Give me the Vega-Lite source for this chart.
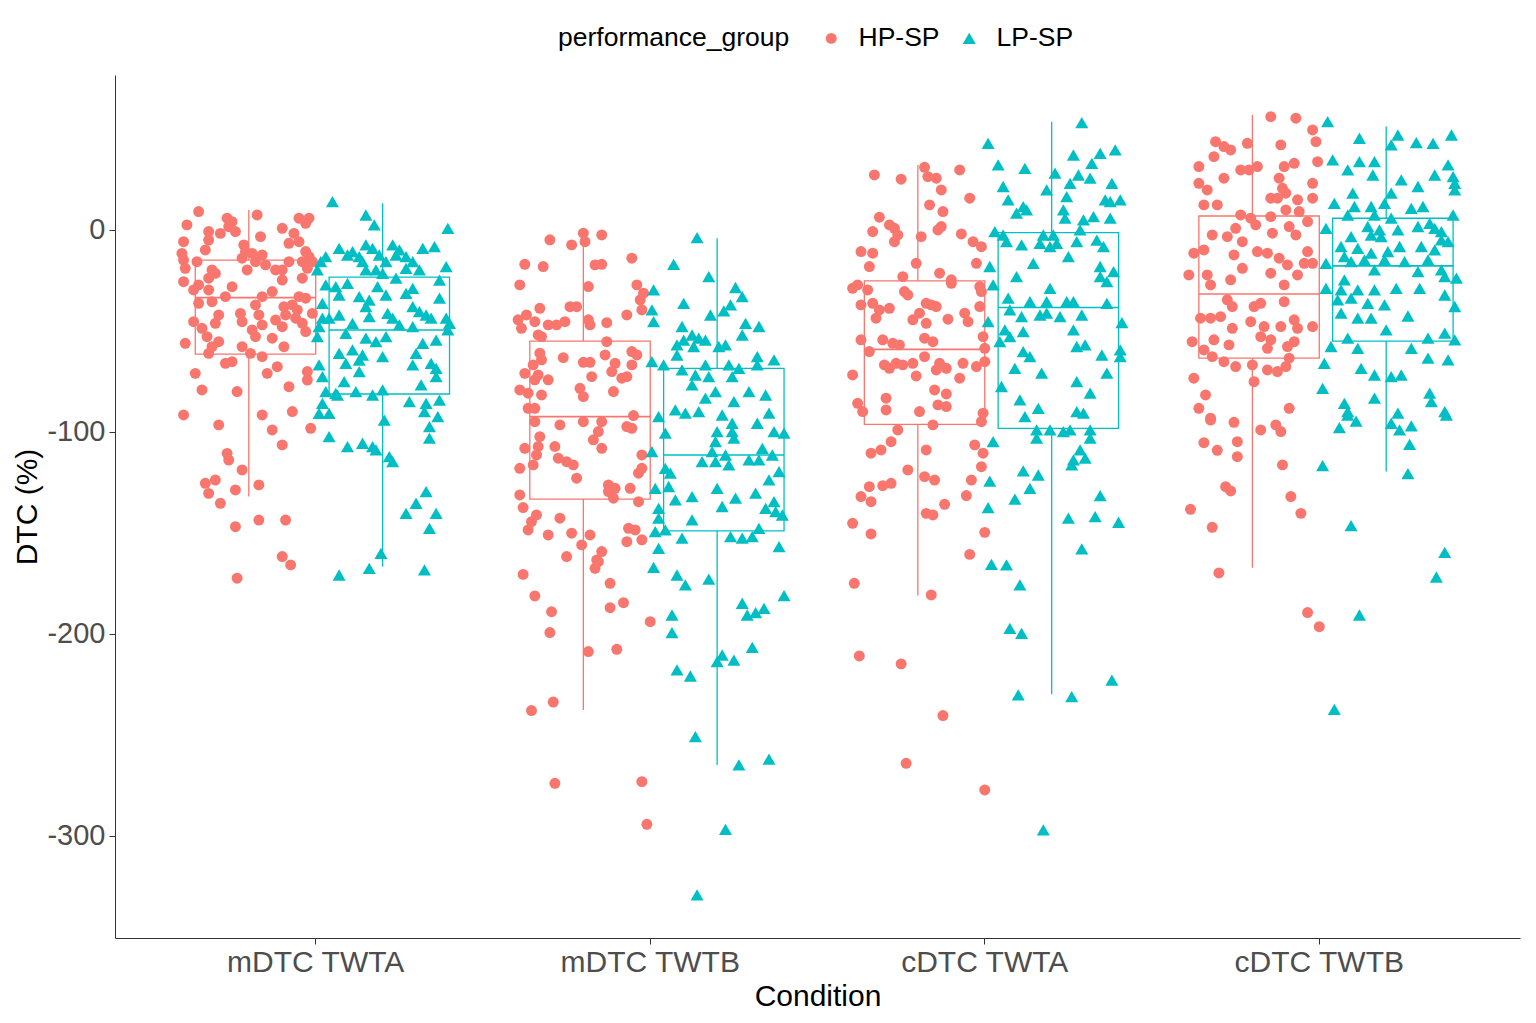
{
  "$schema": "https://vega.github.io/schema/vega-lite/v6.json",
  "width": 1405,
  "height": 863,
  "autosize": "none",
  "padding": {"left": 115, "top": 75, "right": 16, "bottom": 85},
  "background": "white",
  "config": {
    "font": "Liberation Sans",
    "view": {"stroke": null},
    "axis": {
      "grid": false,
      "domainColor": "#333333",
      "tickColor": "#333333",
      "tickSize": 6,
      "labelColor": "#4D4D4D",
      "labelFontSize": 30,
      "titleFontSize": 30,
      "titleColor": "black",
      "titleFontWeight": "normal"
    },
    "legend": {
      "titleFontSize": 26.5,
      "titleFontWeight": "normal",
      "labelFontSize": 26.5,
      "titleColor": "black",
      "labelColor": "black",
      "titleLimit": 500,
      "labelLimit": 300
    }
  },
  "datasets": {
    "boxes": [
      {"cond": "mDTC TWTA", "group": "HP-SP", "lo": -132, "q1": -61.5, "median": -33.5, "q3": -14.9, "hi": 9.9},
      {"cond": "mDTC TWTA", "group": "LP-SP", "lo": -166.7, "q1": -81.2, "median": -49.5, "q3": -23.4, "hi": 13.2},
      {"cond": "mDTC TWTB", "group": "HP-SP", "lo": -237.6, "q1": -133.2, "median": -92.4, "q3": -55, "hi": -3},
      {"cond": "mDTC TWTB", "group": "LP-SP", "lo": -264.9, "q1": -149, "median": -111.4, "q3": -68.5, "hi": -4.1},
      {"cond": "cDTC TWTA", "group": "HP-SP", "lo": -181, "q1": -96.2, "median": -59.1, "q3": -25.2, "hi": 32.2},
      {"cond": "cDTC TWTA", "group": "LP-SP", "lo": -229.9, "q1": -98.2, "median": -38.4, "q3": -1.3, "hi": 53.6},
      {"cond": "cDTC TWTB", "group": "HP-SP", "lo": -167.2, "q1": -63.5, "median": -31.7, "q3": 6.9, "hi": 56.9},
      {"cond": "cDTC TWTB", "group": "LP-SP", "lo": -119.6, "q1": -55, "median": -17.8, "q3": 5.8, "hi": 51.2}
    ],
    "points": [
      {"cond":"mDTC TWTA","group":"HP-SP","jit":-0.35,"dtc":9.1},
      {"cond":"mDTC TWTA","group":"HP-SP","jit":-0.385,"dtc":2.5},
      {"cond":"mDTC TWTA","group":"HP-SP","jit":-0.265,"dtc":5.8},
      {"cond":"mDTC TWTA","group":"HP-SP","jit":-0.25,"dtc":4.1},
      {"cond":"mDTC TWTA","group":"HP-SP","jit":-0.26,"dtc":1.6},
      {"cond":"mDTC TWTA","group":"HP-SP","jit":-0.175,"dtc":7.4},
      {"cond":"mDTC TWTA","group":"HP-SP","jit":-0.32,"dtc":-0.8},
      {"cond":"mDTC TWTA","group":"HP-SP","jit":-0.285,"dtc":-1.7},
      {"cond":"mDTC TWTA","group":"HP-SP","jit":-0.24,"dtc":-0.8},
      {"cond":"mDTC TWTA","group":"HP-SP","jit":-0.165,"dtc":-3.3},
      {"cond":"mDTC TWTA","group":"HP-SP","jit":-0.1,"dtc":0.8},
      {"cond":"mDTC TWTA","group":"HP-SP","jit":-0.05,"dtc":5.8},
      {"cond":"mDTC TWTA","group":"HP-SP","jit":-0.02,"dtc":5.8},
      {"cond":"mDTC TWTA","group":"HP-SP","jit":-0.03,"dtc":3.3},
      {"cond":"mDTC TWTA","group":"HP-SP","jit":-0.065,"dtc":-1.7},
      {"cond":"mDTC TWTA","group":"HP-SP","jit":-0.395,"dtc":-5.8},
      {"cond":"mDTC TWTA","group":"HP-SP","jit":-0.32,"dtc":-5},
      {"cond":"mDTC TWTA","group":"HP-SP","jit":-0.215,"dtc":-7.4},
      {"cond":"mDTC TWTA","group":"HP-SP","jit":-0.08,"dtc":-6.6},
      {"cond":"mDTC TWTA","group":"HP-SP","jit":-0.05,"dtc":-5.8},
      {"cond":"mDTC TWTA","group":"HP-SP","jit":-0.33,"dtc":-9.9},
      {"cond":"mDTC TWTA","group":"HP-SP","jit":-0.4,"dtc":-11.6},
      {"cond":"mDTC TWTA","group":"HP-SP","jit":-0.21,"dtc":-10.7},
      {"cond":"mDTC TWTA","group":"HP-SP","jit":-0.19,"dtc":-11.6},
      {"cond":"mDTC TWTA","group":"HP-SP","jit":-0.16,"dtc":-12.4},
      {"cond":"mDTC TWTA","group":"HP-SP","jit":-0.03,"dtc":-10.7},
      {"cond":"mDTC TWTA","group":"HP-SP","jit":-0.02,"dtc":-13.2},
      {"cond":"mDTC TWTA","group":"HP-SP","jit":-0.395,"dtc":-14.9},
      {"cond":"mDTC TWTA","group":"HP-SP","jit":-0.355,"dtc":-15.7},
      {"cond":"mDTC TWTA","group":"HP-SP","jit":-0.22,"dtc":-14},
      {"cond":"mDTC TWTA","group":"HP-SP","jit":-0.18,"dtc":-15.7},
      {"cond":"mDTC TWTA","group":"HP-SP","jit":-0.15,"dtc":-17.3},
      {"cond":"mDTC TWTA","group":"HP-SP","jit":-0.12,"dtc":-19.8},
      {"cond":"mDTC TWTA","group":"HP-SP","jit":-0.08,"dtc":-15.7},
      {"cond":"mDTC TWTA","group":"HP-SP","jit":-0.04,"dtc":-15.7},
      {"cond":"mDTC TWTA","group":"HP-SP","jit":-0.01,"dtc":-15.7},
      {"cond":"mDTC TWTA","group":"HP-SP","jit":-0.39,"dtc":-19},
      {"cond":"mDTC TWTA","group":"HP-SP","jit":-0.31,"dtc":-19.8},
      {"cond":"mDTC TWTA","group":"HP-SP","jit":-0.3,"dtc":-21.5},
      {"cond":"mDTC TWTA","group":"HP-SP","jit":-0.205,"dtc":-19.8},
      {"cond":"mDTC TWTA","group":"HP-SP","jit":-0.1,"dtc":-19.8},
      {"cond":"mDTC TWTA","group":"HP-SP","jit":-0.025,"dtc":-19},
      {"cond":"mDTC TWTA","group":"HP-SP","jit":-0.32,"dtc":-23.9},
      {"cond":"mDTC TWTA","group":"HP-SP","jit":-0.395,"dtc":-25.6},
      {"cond":"mDTC TWTA","group":"HP-SP","jit":-0.35,"dtc":-27.2},
      {"cond":"mDTC TWTA","group":"HP-SP","jit":-0.25,"dtc":-28.1},
      {"cond":"mDTC TWTA","group":"HP-SP","jit":-0.1,"dtc":-24.8},
      {"cond":"mDTC TWTA","group":"HP-SP","jit":-0.04,"dtc":-23.9},
      {"cond":"mDTC TWTA","group":"HP-SP","jit":-0.365,"dtc":-29.7},
      {"cond":"mDTC TWTA","group":"HP-SP","jit":-0.32,"dtc":-29.7},
      {"cond":"mDTC TWTA","group":"HP-SP","jit":-0.27,"dtc":-33},
      {"cond":"mDTC TWTA","group":"HP-SP","jit":-0.16,"dtc":-33},
      {"cond":"mDTC TWTA","group":"HP-SP","jit":-0.13,"dtc":-30.5},
      {"cond":"mDTC TWTA","group":"HP-SP","jit":-0.05,"dtc":-33},
      {"cond":"mDTC TWTA","group":"HP-SP","jit":-0.03,"dtc":-33.8},
      {"cond":"mDTC TWTA","group":"HP-SP","jit":-0.35,"dtc":-36.3},
      {"cond":"mDTC TWTA","group":"HP-SP","jit":-0.31,"dtc":-35.5},
      {"cond":"mDTC TWTA","group":"HP-SP","jit":-0.18,"dtc":-37.1},
      {"cond":"mDTC TWTA","group":"HP-SP","jit":-0.095,"dtc":-38},
      {"cond":"mDTC TWTA","group":"HP-SP","jit":-0.07,"dtc":-37.1},
      {"cond":"mDTC TWTA","group":"HP-SP","jit":-0.055,"dtc":-39.6},
      {"cond":"mDTC TWTA","group":"HP-SP","jit":-0.29,"dtc":-42.1},
      {"cond":"mDTC TWTA","group":"HP-SP","jit":-0.225,"dtc":-41.3},
      {"cond":"mDTC TWTA","group":"HP-SP","jit":-0.17,"dtc":-42.1},
      {"cond":"mDTC TWTA","group":"HP-SP","jit":-0.09,"dtc":-42.1},
      {"cond":"mDTC TWTA","group":"HP-SP","jit":-0.01,"dtc":-41.3},
      {"cond":"mDTC TWTA","group":"HP-SP","jit":-0.365,"dtc":-45.4},
      {"cond":"mDTC TWTA","group":"HP-SP","jit":-0.3,"dtc":-46.2},
      {"cond":"mDTC TWTA","group":"HP-SP","jit":-0.22,"dtc":-45.4},
      {"cond":"mDTC TWTA","group":"HP-SP","jit":-0.16,"dtc":-47},
      {"cond":"mDTC TWTA","group":"HP-SP","jit":-0.12,"dtc":-44.6},
      {"cond":"mDTC TWTA","group":"HP-SP","jit":-0.06,"dtc":-43.7},
      {"cond":"mDTC TWTA","group":"HP-SP","jit":-0.04,"dtc":-46.2},
      {"cond":"mDTC TWTA","group":"HP-SP","jit":-0.34,"dtc":-48.7},
      {"cond":"mDTC TWTA","group":"HP-SP","jit":-0.19,"dtc":-49.5},
      {"cond":"mDTC TWTA","group":"HP-SP","jit":-0.1,"dtc":-47.9},
      {"cond":"mDTC TWTA","group":"HP-SP","jit":-0.03,"dtc":-50.3},
      {"cond":"mDTC TWTA","group":"HP-SP","jit":-0.325,"dtc":-52.8},
      {"cond":"mDTC TWTA","group":"HP-SP","jit":-0.29,"dtc":-55.3},
      {"cond":"mDTC TWTA","group":"HP-SP","jit":-0.18,"dtc":-52.8},
      {"cond":"mDTC TWTA","group":"HP-SP","jit":-0.13,"dtc":-53.6},
      {"cond":"mDTC TWTA","group":"HP-SP","jit":-0.39,"dtc":-56.1},
      {"cond":"mDTC TWTA","group":"HP-SP","jit":-0.31,"dtc":-57.8},
      {"cond":"mDTC TWTA","group":"HP-SP","jit":-0.22,"dtc":-57.8},
      {"cond":"mDTC TWTA","group":"HP-SP","jit":-0.095,"dtc":-57.8},
      {"cond":"mDTC TWTA","group":"HP-SP","jit":-0.32,"dtc":-61.1},
      {"cond":"mDTC TWTA","group":"HP-SP","jit":-0.195,"dtc":-61.1},
      {"cond":"mDTC TWTA","group":"HP-SP","jit":-0.16,"dtc":-62.7},
      {"cond":"mDTC TWTA","group":"HP-SP","jit":-0.27,"dtc":-66},
      {"cond":"mDTC TWTA","group":"HP-SP","jit":-0.25,"dtc":-65.2},
      {"cond":"mDTC TWTA","group":"HP-SP","jit":-0.115,"dtc":-67.7},
      {"cond":"mDTC TWTA","group":"HP-SP","jit":-0.36,"dtc":-71},
      {"cond":"mDTC TWTA","group":"HP-SP","jit":-0.145,"dtc":-71},
      {"cond":"mDTC TWTA","group":"HP-SP","jit":-0.025,"dtc":-70.1},
      {"cond":"mDTC TWTA","group":"HP-SP","jit":-0.025,"dtc":-74.3},
      {"cond":"mDTC TWTA","group":"HP-SP","jit":-0.34,"dtc":-79.2},
      {"cond":"mDTC TWTA","group":"HP-SP","jit":-0.235,"dtc":-80},
      {"cond":"mDTC TWTA","group":"HP-SP","jit":-0.08,"dtc":-77.6},
      {"cond":"mDTC TWTA","group":"HP-SP","jit":-0.395,"dtc":-91.6},
      {"cond":"mDTC TWTA","group":"HP-SP","jit":-0.16,"dtc":-91.6},
      {"cond":"mDTC TWTA","group":"HP-SP","jit":-0.07,"dtc":-89.9},
      {"cond":"mDTC TWTA","group":"HP-SP","jit":-0.29,"dtc":-96.5},
      {"cond":"mDTC TWTA","group":"HP-SP","jit":-0.13,"dtc":-99},
      {"cond":"mDTC TWTA","group":"HP-SP","jit":-0.015,"dtc":-98.2},
      {"cond":"mDTC TWTA","group":"HP-SP","jit":-0.1,"dtc":-106.4},
      {"cond":"mDTC TWTA","group":"HP-SP","jit":-0.265,"dtc":-110.6},
      {"cond":"mDTC TWTA","group":"HP-SP","jit":-0.26,"dtc":-113.9},
      {"cond":"mDTC TWTA","group":"HP-SP","jit":-0.22,"dtc":-118.8},
      {"cond":"mDTC TWTA","group":"HP-SP","jit":-0.33,"dtc":-125.4},
      {"cond":"mDTC TWTA","group":"HP-SP","jit":-0.3,"dtc":-123.8},
      {"cond":"mDTC TWTA","group":"HP-SP","jit":-0.32,"dtc":-130.4},
      {"cond":"mDTC TWTA","group":"HP-SP","jit":-0.24,"dtc":-128.7},
      {"cond":"mDTC TWTA","group":"HP-SP","jit":-0.17,"dtc":-126.2},
      {"cond":"mDTC TWTA","group":"HP-SP","jit":-0.285,"dtc":-135.3},
      {"cond":"mDTC TWTA","group":"HP-SP","jit":-0.24,"dtc":-146.9},
      {"cond":"mDTC TWTA","group":"HP-SP","jit":-0.17,"dtc":-143.6},
      {"cond":"mDTC TWTA","group":"HP-SP","jit":-0.09,"dtc":-143.6},
      {"cond":"mDTC TWTA","group":"HP-SP","jit":-0.1,"dtc":-161.7},
      {"cond":"mDTC TWTA","group":"HP-SP","jit":-0.075,"dtc":-165.8},
      {"cond":"mDTC TWTA","group":"HP-SP","jit":-0.235,"dtc":-172.4},
      {"cond":"mDTC TWTA","group":"LP-SP","jit":0.05,"dtc":14},
      {"cond":"mDTC TWTA","group":"LP-SP","jit":0.15,"dtc":7.4},
      {"cond":"mDTC TWTA","group":"LP-SP","jit":0.175,"dtc":2.5},
      {"cond":"mDTC TWTA","group":"LP-SP","jit":0.395,"dtc":0.8},
      {"cond":"mDTC TWTA","group":"LP-SP","jit":0.07,"dtc":-9.1},
      {"cond":"mDTC TWTA","group":"LP-SP","jit":0.11,"dtc":-10.7},
      {"cond":"mDTC TWTA","group":"LP-SP","jit":0.15,"dtc":-7.4},
      {"cond":"mDTC TWTA","group":"LP-SP","jit":0.17,"dtc":-9.1},
      {"cond":"mDTC TWTA","group":"LP-SP","jit":0.23,"dtc":-7.4},
      {"cond":"mDTC TWTA","group":"LP-SP","jit":0.25,"dtc":-9.9},
      {"cond":"mDTC TWTA","group":"LP-SP","jit":0.24,"dtc":-12.4},
      {"cond":"mDTC TWTA","group":"LP-SP","jit":0.32,"dtc":-9.1},
      {"cond":"mDTC TWTA","group":"LP-SP","jit":0.355,"dtc":-8.3},
      {"cond":"mDTC TWTA","group":"LP-SP","jit":0.03,"dtc":-13.2},
      {"cond":"mDTC TWTA","group":"LP-SP","jit":0.015,"dtc":-15.7},
      {"cond":"mDTC TWTA","group":"LP-SP","jit":0.095,"dtc":-12.4},
      {"cond":"mDTC TWTA","group":"LP-SP","jit":0.13,"dtc":-13.2},
      {"cond":"mDTC TWTA","group":"LP-SP","jit":0.14,"dtc":-15.7},
      {"cond":"mDTC TWTA","group":"LP-SP","jit":0.19,"dtc":-12.4},
      {"cond":"mDTC TWTA","group":"LP-SP","jit":0.21,"dtc":-15.7},
      {"cond":"mDTC TWTA","group":"LP-SP","jit":0.27,"dtc":-13.2},
      {"cond":"mDTC TWTA","group":"LP-SP","jit":0.29,"dtc":-15.7},
      {"cond":"mDTC TWTA","group":"LP-SP","jit":0.005,"dtc":-19.8},
      {"cond":"mDTC TWTA","group":"LP-SP","jit":0.15,"dtc":-19.8},
      {"cond":"mDTC TWTA","group":"LP-SP","jit":0.18,"dtc":-19.8},
      {"cond":"mDTC TWTA","group":"LP-SP","jit":0.2,"dtc":-21.5},
      {"cond":"mDTC TWTA","group":"LP-SP","jit":0.27,"dtc":-19},
      {"cond":"mDTC TWTA","group":"LP-SP","jit":0.31,"dtc":-19.8},
      {"cond":"mDTC TWTA","group":"LP-SP","jit":0.39,"dtc":-18.2},
      {"cond":"mDTC TWTA","group":"LP-SP","jit":0.24,"dtc":-23.9},
      {"cond":"mDTC TWTA","group":"LP-SP","jit":0.37,"dtc":-24.8},
      {"cond":"mDTC TWTA","group":"LP-SP","jit":0.03,"dtc":-27.2},
      {"cond":"mDTC TWTA","group":"LP-SP","jit":0.06,"dtc":-28.1},
      {"cond":"mDTC TWTA","group":"LP-SP","jit":0.095,"dtc":-26.4},
      {"cond":"mDTC TWTA","group":"LP-SP","jit":0.185,"dtc":-28.1},
      {"cond":"mDTC TWTA","group":"LP-SP","jit":0.29,"dtc":-28.9},
      {"cond":"mDTC TWTA","group":"LP-SP","jit":0.07,"dtc":-32.2},
      {"cond":"mDTC TWTA","group":"LP-SP","jit":0.13,"dtc":-33},
      {"cond":"mDTC TWTA","group":"LP-SP","jit":0.16,"dtc":-34.7},
      {"cond":"mDTC TWTA","group":"LP-SP","jit":0.21,"dtc":-32.2},
      {"cond":"mDTC TWTA","group":"LP-SP","jit":0.27,"dtc":-31.4},
      {"cond":"mDTC TWTA","group":"LP-SP","jit":0.37,"dtc":-33.8},
      {"cond":"mDTC TWTA","group":"LP-SP","jit":0.02,"dtc":-36.3},
      {"cond":"mDTC TWTA","group":"LP-SP","jit":0.15,"dtc":-38},
      {"cond":"mDTC TWTA","group":"LP-SP","jit":0.29,"dtc":-38},
      {"cond":"mDTC TWTA","group":"LP-SP","jit":0.31,"dtc":-40.4},
      {"cond":"mDTC TWTA","group":"LP-SP","jit":0.39,"dtc":-43.7},
      {"cond":"mDTC TWTA","group":"LP-SP","jit":0.02,"dtc":-43.7},
      {"cond":"mDTC TWTA","group":"LP-SP","jit":0.04,"dtc":-43.7},
      {"cond":"mDTC TWTA","group":"LP-SP","jit":0.07,"dtc":-42.1},
      {"cond":"mDTC TWTA","group":"LP-SP","jit":0.16,"dtc":-42.9},
      {"cond":"mDTC TWTA","group":"LP-SP","jit":0.215,"dtc":-41.3},
      {"cond":"mDTC TWTA","group":"LP-SP","jit":0.23,"dtc":-43.7},
      {"cond":"mDTC TWTA","group":"LP-SP","jit":0.33,"dtc":-42.1},
      {"cond":"mDTC TWTA","group":"LP-SP","jit":0.345,"dtc":-43.7},
      {"cond":"mDTC TWTA","group":"LP-SP","jit":0.4,"dtc":-46.2},
      {"cond":"mDTC TWTA","group":"LP-SP","jit":0.01,"dtc":-47.9},
      {"cond":"mDTC TWTA","group":"LP-SP","jit":0.11,"dtc":-46.2},
      {"cond":"mDTC TWTA","group":"LP-SP","jit":0.25,"dtc":-47},
      {"cond":"mDTC TWTA","group":"LP-SP","jit":0.29,"dtc":-47.9},
      {"cond":"mDTC TWTA","group":"LP-SP","jit":0.395,"dtc":-49.5},
      {"cond":"mDTC TWTA","group":"LP-SP","jit":0.005,"dtc":-52.8},
      {"cond":"mDTC TWTA","group":"LP-SP","jit":0.09,"dtc":-51.2},
      {"cond":"mDTC TWTA","group":"LP-SP","jit":0.15,"dtc":-53.6},
      {"cond":"mDTC TWTA","group":"LP-SP","jit":0.18,"dtc":-55.3},
      {"cond":"mDTC TWTA","group":"LP-SP","jit":0.21,"dtc":-52.8},
      {"cond":"mDTC TWTA","group":"LP-SP","jit":0.32,"dtc":-56.1},
      {"cond":"mDTC TWTA","group":"LP-SP","jit":0.36,"dtc":-54.5},
      {"cond":"mDTC TWTA","group":"LP-SP","jit":0.07,"dtc":-61.1},
      {"cond":"mDTC TWTA","group":"LP-SP","jit":0.11,"dtc":-59.4},
      {"cond":"mDTC TWTA","group":"LP-SP","jit":0.14,"dtc":-61.9},
      {"cond":"mDTC TWTA","group":"LP-SP","jit":0.3,"dtc":-61.1},
      {"cond":"mDTC TWTA","group":"LP-SP","jit":0.01,"dtc":-66.8},
      {"cond":"mDTC TWTA","group":"LP-SP","jit":0.09,"dtc":-66},
      {"cond":"mDTC TWTA","group":"LP-SP","jit":0.13,"dtc":-64.4},
      {"cond":"mDTC TWTA","group":"LP-SP","jit":0.2,"dtc":-62.7},
      {"cond":"mDTC TWTA","group":"LP-SP","jit":0.29,"dtc":-66.8},
      {"cond":"mDTC TWTA","group":"LP-SP","jit":0.345,"dtc":-66},
      {"cond":"mDTC TWTA","group":"LP-SP","jit":0.36,"dtc":-68.5},
      {"cond":"mDTC TWTA","group":"LP-SP","jit":0.13,"dtc":-70.1},
      {"cond":"mDTC TWTA","group":"LP-SP","jit":0.36,"dtc":-72.6},
      {"cond":"mDTC TWTA","group":"LP-SP","jit":0.02,"dtc":-72.6},
      {"cond":"mDTC TWTA","group":"LP-SP","jit":0.085,"dtc":-75.1},
      {"cond":"mDTC TWTA","group":"LP-SP","jit":0.315,"dtc":-76.7},
      {"cond":"mDTC TWTA","group":"LP-SP","jit":0.03,"dtc":-80},
      {"cond":"mDTC TWTA","group":"LP-SP","jit":0.06,"dtc":-80.9},
      {"cond":"mDTC TWTA","group":"LP-SP","jit":0.12,"dtc":-80},
      {"cond":"mDTC TWTA","group":"LP-SP","jit":0.17,"dtc":-81.7},
      {"cond":"mDTC TWTA","group":"LP-SP","jit":0.2,"dtc":-79.2},
      {"cond":"mDTC TWTA","group":"LP-SP","jit":0.02,"dtc":-85.8},
      {"cond":"mDTC TWTA","group":"LP-SP","jit":0.065,"dtc":-81.7},
      {"cond":"mDTC TWTA","group":"LP-SP","jit":0.28,"dtc":-85},
      {"cond":"mDTC TWTA","group":"LP-SP","jit":0.33,"dtc":-85.8},
      {"cond":"mDTC TWTA","group":"LP-SP","jit":0.37,"dtc":-84.2},
      {"cond":"mDTC TWTA","group":"LP-SP","jit":0.01,"dtc":-90.8},
      {"cond":"mDTC TWTA","group":"LP-SP","jit":0.04,"dtc":-90.8},
      {"cond":"mDTC TWTA","group":"LP-SP","jit":0.325,"dtc":-89.9},
      {"cond":"mDTC TWTA","group":"LP-SP","jit":0.365,"dtc":-92.4},
      {"cond":"mDTC TWTA","group":"LP-SP","jit":0.205,"dtc":-94.1},
      {"cond":"mDTC TWTA","group":"LP-SP","jit":0.34,"dtc":-97.4},
      {"cond":"mDTC TWTA","group":"LP-SP","jit":0.04,"dtc":-102.3},
      {"cond":"mDTC TWTA","group":"LP-SP","jit":0.095,"dtc":-107.3},
      {"cond":"mDTC TWTA","group":"LP-SP","jit":0.14,"dtc":-105.6},
      {"cond":"mDTC TWTA","group":"LP-SP","jit":0.17,"dtc":-107.3},
      {"cond":"mDTC TWTA","group":"LP-SP","jit":0.18,"dtc":-108.9},
      {"cond":"mDTC TWTA","group":"LP-SP","jit":0.22,"dtc":-112.2},
      {"cond":"mDTC TWTA","group":"LP-SP","jit":0.23,"dtc":-114.7},
      {"cond":"mDTC TWTA","group":"LP-SP","jit":0.34,"dtc":-103.1},
      {"cond":"mDTC TWTA","group":"LP-SP","jit":0.33,"dtc":-129.5},
      {"cond":"mDTC TWTA","group":"LP-SP","jit":0.3,"dtc":-135.3},
      {"cond":"mDTC TWTA","group":"LP-SP","jit":0.27,"dtc":-140.3},
      {"cond":"mDTC TWTA","group":"LP-SP","jit":0.36,"dtc":-140.3},
      {"cond":"mDTC TWTA","group":"LP-SP","jit":0.34,"dtc":-147.7},
      {"cond":"mDTC TWTA","group":"LP-SP","jit":0.195,"dtc":-160.1},
      {"cond":"mDTC TWTA","group":"LP-SP","jit":0.16,"dtc":-167.5},
      {"cond":"mDTC TWTA","group":"LP-SP","jit":0.07,"dtc":-170.8},
      {"cond":"mDTC TWTA","group":"LP-SP","jit":0.325,"dtc":-168.3},
      {"cond":"mDTC TWTB","group":"HP-SP","jit":-0.3,"dtc":-4.9},
      {"cond":"mDTC TWTB","group":"HP-SP","jit":-0.235,"dtc":-7.4},
      {"cond":"mDTC TWTB","group":"HP-SP","jit":-0.2,"dtc":-1.6},
      {"cond":"mDTC TWTB","group":"HP-SP","jit":-0.195,"dtc":-5.8},
      {"cond":"mDTC TWTB","group":"HP-SP","jit":-0.145,"dtc":-2.5},
      {"cond":"mDTC TWTB","group":"HP-SP","jit":-0.375,"dtc":-17},
      {"cond":"mDTC TWTB","group":"HP-SP","jit":-0.32,"dtc":-18.1},
      {"cond":"mDTC TWTB","group":"HP-SP","jit":-0.165,"dtc":-17.3},
      {"cond":"mDTC TWTB","group":"HP-SP","jit":-0.145,"dtc":-17},
      {"cond":"mDTC TWTB","group":"HP-SP","jit":-0.055,"dtc":-14},
      {"cond":"mDTC TWTB","group":"HP-SP","jit":-0.39,"dtc":-27.2},
      {"cond":"mDTC TWTB","group":"HP-SP","jit":-0.185,"dtc":-28},
      {"cond":"mDTC TWTB","group":"HP-SP","jit":-0.04,"dtc":-27.2},
      {"cond":"mDTC TWTB","group":"HP-SP","jit":-0.03,"dtc":-34.6},
      {"cond":"mDTC TWTB","group":"HP-SP","jit":-0.02,"dtc":-31.3},
      {"cond":"mDTC TWTB","group":"HP-SP","jit":-0.33,"dtc":-38.8},
      {"cond":"mDTC TWTB","group":"HP-SP","jit":-0.24,"dtc":-38},
      {"cond":"mDTC TWTB","group":"HP-SP","jit":-0.22,"dtc":-38},
      {"cond":"mDTC TWTB","group":"HP-SP","jit":-0.025,"dtc":-39.6},
      {"cond":"mDTC TWTB","group":"HP-SP","jit":-0.07,"dtc":-42.1},
      {"cond":"mDTC TWTB","group":"HP-SP","jit":-0.37,"dtc":-42.1},
      {"cond":"mDTC TWTB","group":"HP-SP","jit":-0.395,"dtc":-44.5},
      {"cond":"mDTC TWTB","group":"HP-SP","jit":-0.385,"dtc":-48.7},
      {"cond":"mDTC TWTB","group":"HP-SP","jit":-0.345,"dtc":-45.4},
      {"cond":"mDTC TWTB","group":"HP-SP","jit":-0.305,"dtc":-47},
      {"cond":"mDTC TWTB","group":"HP-SP","jit":-0.28,"dtc":-47},
      {"cond":"mDTC TWTB","group":"HP-SP","jit":-0.255,"dtc":-45.4},
      {"cond":"mDTC TWTB","group":"HP-SP","jit":-0.185,"dtc":-44.5},
      {"cond":"mDTC TWTB","group":"HP-SP","jit":-0.18,"dtc":-47},
      {"cond":"mDTC TWTB","group":"HP-SP","jit":-0.13,"dtc":-45.9},
      {"cond":"mDTC TWTB","group":"HP-SP","jit":-0.335,"dtc":-52},
      {"cond":"mDTC TWTB","group":"HP-SP","jit":-0.325,"dtc":-52.8},
      {"cond":"mDTC TWTB","group":"HP-SP","jit":-0.13,"dtc":-55.3},
      {"cond":"mDTC TWTB","group":"HP-SP","jit":-0.33,"dtc":-61},
      {"cond":"mDTC TWTB","group":"HP-SP","jit":-0.325,"dtc":-64.3},
      {"cond":"mDTC TWTB","group":"HP-SP","jit":-0.26,"dtc":-63.2},
      {"cond":"mDTC TWTB","group":"HP-SP","jit":-0.135,"dtc":-61.9},
      {"cond":"mDTC TWTB","group":"HP-SP","jit":-0.055,"dtc":-60.2},
      {"cond":"mDTC TWTB","group":"HP-SP","jit":-0.04,"dtc":-61.9},
      {"cond":"mDTC TWTB","group":"HP-SP","jit":-0.35,"dtc":-66.8},
      {"cond":"mDTC TWTB","group":"HP-SP","jit":-0.2,"dtc":-65.5},
      {"cond":"mDTC TWTB","group":"HP-SP","jit":-0.18,"dtc":-65.5},
      {"cond":"mDTC TWTB","group":"HP-SP","jit":-0.105,"dtc":-66},
      {"cond":"mDTC TWTB","group":"HP-SP","jit":-0.055,"dtc":-66.8},
      {"cond":"mDTC TWTB","group":"HP-SP","jit":-0.375,"dtc":-71},
      {"cond":"mDTC TWTB","group":"HP-SP","jit":-0.335,"dtc":-71.8},
      {"cond":"mDTC TWTB","group":"HP-SP","jit":-0.305,"dtc":-74.2},
      {"cond":"mDTC TWTB","group":"HP-SP","jit":-0.345,"dtc":-74.2},
      {"cond":"mDTC TWTB","group":"HP-SP","jit":-0.175,"dtc":-72.6},
      {"cond":"mDTC TWTB","group":"HP-SP","jit":-0.115,"dtc":-70.1},
      {"cond":"mDTC TWTB","group":"HP-SP","jit":-0.085,"dtc":-73.4},
      {"cond":"mDTC TWTB","group":"HP-SP","jit":-0.07,"dtc":-72.6},
      {"cond":"mDTC TWTB","group":"HP-SP","jit":-0.39,"dtc":-79.2},
      {"cond":"mDTC TWTB","group":"HP-SP","jit":-0.365,"dtc":-80.8},
      {"cond":"mDTC TWTB","group":"HP-SP","jit":-0.325,"dtc":-81.7},
      {"cond":"mDTC TWTB","group":"HP-SP","jit":-0.21,"dtc":-78.4},
      {"cond":"mDTC TWTB","group":"HP-SP","jit":-0.2,"dtc":-82.5},
      {"cond":"mDTC TWTB","group":"HP-SP","jit":-0.11,"dtc":-80},
      {"cond":"mDTC TWTB","group":"HP-SP","jit":-0.365,"dtc":-88.3},
      {"cond":"mDTC TWTB","group":"HP-SP","jit":-0.345,"dtc":-88.3},
      {"cond":"mDTC TWTB","group":"HP-SP","jit":-0.05,"dtc":-91.9},
      {"cond":"mDTC TWTB","group":"HP-SP","jit":-0.345,"dtc":-94.9},
      {"cond":"mDTC TWTB","group":"HP-SP","jit":-0.27,"dtc":-96.5},
      {"cond":"mDTC TWTB","group":"HP-SP","jit":-0.2,"dtc":-94.9},
      {"cond":"mDTC TWTB","group":"HP-SP","jit":-0.145,"dtc":-94.9},
      {"cond":"mDTC TWTB","group":"HP-SP","jit":-0.07,"dtc":-97.3},
      {"cond":"mDTC TWTB","group":"HP-SP","jit":-0.055,"dtc":-98.2},
      {"cond":"mDTC TWTB","group":"HP-SP","jit":-0.33,"dtc":-102.3},
      {"cond":"mDTC TWTB","group":"HP-SP","jit":-0.155,"dtc":-99.8},
      {"cond":"mDTC TWTB","group":"HP-SP","jit":-0.17,"dtc":-103.9},
      {"cond":"mDTC TWTB","group":"HP-SP","jit":-0.375,"dtc":-108.1},
      {"cond":"mDTC TWTB","group":"HP-SP","jit":-0.335,"dtc":-107.2},
      {"cond":"mDTC TWTB","group":"HP-SP","jit":-0.285,"dtc":-107.2},
      {"cond":"mDTC TWTB","group":"HP-SP","jit":-0.34,"dtc":-111.4},
      {"cond":"mDTC TWTB","group":"HP-SP","jit":-0.275,"dtc":-113},
      {"cond":"mDTC TWTB","group":"HP-SP","jit":-0.25,"dtc":-114.7},
      {"cond":"mDTC TWTB","group":"HP-SP","jit":-0.23,"dtc":-116.3},
      {"cond":"mDTC TWTB","group":"HP-SP","jit":-0.145,"dtc":-108.1},
      {"cond":"mDTC TWTB","group":"HP-SP","jit":-0.025,"dtc":-111.4},
      {"cond":"mDTC TWTB","group":"HP-SP","jit":-0.39,"dtc":-118},
      {"cond":"mDTC TWTB","group":"HP-SP","jit":-0.35,"dtc":-116.3},
      {"cond":"mDTC TWTB","group":"HP-SP","jit":-0.22,"dtc":-122.9},
      {"cond":"mDTC TWTB","group":"HP-SP","jit":-0.025,"dtc":-118},
      {"cond":"mDTC TWTB","group":"HP-SP","jit":-0.035,"dtc":-120.4},
      {"cond":"mDTC TWTB","group":"HP-SP","jit":-0.125,"dtc":-126.2},
      {"cond":"mDTC TWTB","group":"HP-SP","jit":-0.105,"dtc":-127.9},
      {"cond":"mDTC TWTB","group":"HP-SP","jit":-0.125,"dtc":-129.5},
      {"cond":"mDTC TWTB","group":"HP-SP","jit":-0.11,"dtc":-132.8},
      {"cond":"mDTC TWTB","group":"HP-SP","jit":-0.06,"dtc":-127.9},
      {"cond":"mDTC TWTB","group":"HP-SP","jit":-0.39,"dtc":-131.2},
      {"cond":"mDTC TWTB","group":"HP-SP","jit":-0.035,"dtc":-134.5},
      {"cond":"mDTC TWTB","group":"HP-SP","jit":-0.38,"dtc":-137.4},
      {"cond":"mDTC TWTB","group":"HP-SP","jit":-0.34,"dtc":-141.1},
      {"cond":"mDTC TWTB","group":"HP-SP","jit":-0.355,"dtc":-144.4},
      {"cond":"mDTC TWTB","group":"HP-SP","jit":-0.27,"dtc":-142.7},
      {"cond":"mDTC TWTB","group":"HP-SP","jit":-0.365,"dtc":-148.5},
      {"cond":"mDTC TWTB","group":"HP-SP","jit":-0.305,"dtc":-151},
      {"cond":"mDTC TWTB","group":"HP-SP","jit":-0.235,"dtc":-150.1},
      {"cond":"mDTC TWTB","group":"HP-SP","jit":-0.18,"dtc":-151},
      {"cond":"mDTC TWTB","group":"HP-SP","jit":-0.205,"dtc":-155.9},
      {"cond":"mDTC TWTB","group":"HP-SP","jit":-0.065,"dtc":-147.7},
      {"cond":"mDTC TWTB","group":"HP-SP","jit":-0.045,"dtc":-148.5},
      {"cond":"mDTC TWTB","group":"HP-SP","jit":-0.07,"dtc":-154.3},
      {"cond":"mDTC TWTB","group":"HP-SP","jit":-0.025,"dtc":-153.4},
      {"cond":"mDTC TWTB","group":"HP-SP","jit":-0.25,"dtc":-161.7},
      {"cond":"mDTC TWTB","group":"HP-SP","jit":-0.145,"dtc":-159.2},
      {"cond":"mDTC TWTB","group":"HP-SP","jit":-0.16,"dtc":-163.4},
      {"cond":"mDTC TWTB","group":"HP-SP","jit":-0.38,"dtc":-170.5},
      {"cond":"mDTC TWTB","group":"HP-SP","jit":-0.165,"dtc":-167.5},
      {"cond":"mDTC TWTB","group":"HP-SP","jit":-0.155,"dtc":-164.2},
      {"cond":"mDTC TWTB","group":"HP-SP","jit":-0.12,"dtc":-174.9},
      {"cond":"mDTC TWTB","group":"HP-SP","jit":-0.345,"dtc":-181.2},
      {"cond":"mDTC TWTB","group":"HP-SP","jit":-0.295,"dtc":-189},
      {"cond":"mDTC TWTB","group":"HP-SP","jit":-0.12,"dtc":-187},
      {"cond":"mDTC TWTB","group":"HP-SP","jit":-0.08,"dtc":-184.5},
      {"cond":"mDTC TWTB","group":"HP-SP","jit":0,"dtc":-193.9},
      {"cond":"mDTC TWTB","group":"HP-SP","jit":-0.3,"dtc":-199.3},
      {"cond":"mDTC TWTB","group":"HP-SP","jit":-0.185,"dtc":-208.7},
      {"cond":"mDTC TWTB","group":"HP-SP","jit":-0.1,"dtc":-207.6},
      {"cond":"mDTC TWTB","group":"HP-SP","jit":-0.29,"dtc":-233.7},
      {"cond":"mDTC TWTB","group":"HP-SP","jit":-0.355,"dtc":-237.9},
      {"cond":"mDTC TWTB","group":"HP-SP","jit":-0.285,"dtc":-273.9},
      {"cond":"mDTC TWTB","group":"HP-SP","jit":-0.025,"dtc":-273.1},
      {"cond":"mDTC TWTB","group":"HP-SP","jit":-0.01,"dtc":-294.2},
      {"cond":"mDTC TWTB","group":"LP-SP","jit":0.14,"dtc":-3.8},
      {"cond":"mDTC TWTB","group":"LP-SP","jit":0.07,"dtc":-17},
      {"cond":"mDTC TWTB","group":"LP-SP","jit":0.175,"dtc":-23.1},
      {"cond":"mDTC TWTB","group":"LP-SP","jit":0.01,"dtc":-29.7},
      {"cond":"mDTC TWTB","group":"LP-SP","jit":0.255,"dtc":-28.5},
      {"cond":"mDTC TWTB","group":"LP-SP","jit":0.275,"dtc":-33},
      {"cond":"mDTC TWTB","group":"LP-SP","jit":0.1,"dtc":-36.3},
      {"cond":"mDTC TWTB","group":"LP-SP","jit":0.005,"dtc":-39.6},
      {"cond":"mDTC TWTB","group":"LP-SP","jit":0.24,"dtc":-37.1},
      {"cond":"mDTC TWTB","group":"LP-SP","jit":0.22,"dtc":-40.1},
      {"cond":"mDTC TWTB","group":"LP-SP","jit":0.18,"dtc":-42.1},
      {"cond":"mDTC TWTB","group":"LP-SP","jit":0.01,"dtc":-45.4},
      {"cond":"mDTC TWTB","group":"LP-SP","jit":0.285,"dtc":-46.2},
      {"cond":"mDTC TWTB","group":"LP-SP","jit":0.325,"dtc":-47.8},
      {"cond":"mDTC TWTB","group":"LP-SP","jit":0.095,"dtc":-47.8},
      {"cond":"mDTC TWTB","group":"LP-SP","jit":0.125,"dtc":-52},
      {"cond":"mDTC TWTB","group":"LP-SP","jit":0.145,"dtc":-53.6},
      {"cond":"mDTC TWTB","group":"LP-SP","jit":0.165,"dtc":-54.5},
      {"cond":"mDTC TWTB","group":"LP-SP","jit":0.1,"dtc":-54.5},
      {"cond":"mDTC TWTB","group":"LP-SP","jit":0.275,"dtc":-52},
      {"cond":"mDTC TWTB","group":"LP-SP","jit":0.08,"dtc":-56.9},
      {"cond":"mDTC TWTB","group":"LP-SP","jit":0.13,"dtc":-57.7},
      {"cond":"mDTC TWTB","group":"LP-SP","jit":0.205,"dtc":-57.7},
      {"cond":"mDTC TWTB","group":"LP-SP","jit":0.225,"dtc":-56.9},
      {"cond":"mDTC TWTB","group":"LP-SP","jit":0.08,"dtc":-61.9},
      {"cond":"mDTC TWTB","group":"LP-SP","jit":0.32,"dtc":-62.7},
      {"cond":"mDTC TWTB","group":"LP-SP","jit":0.37,"dtc":-64.3},
      {"cond":"mDTC TWTB","group":"LP-SP","jit":0.005,"dtc":-65.2},
      {"cond":"mDTC TWTB","group":"LP-SP","jit":0.04,"dtc":-66.8},
      {"cond":"mDTC TWTB","group":"LP-SP","jit":0.165,"dtc":-66.8},
      {"cond":"mDTC TWTB","group":"LP-SP","jit":0.235,"dtc":-66.8},
      {"cond":"mDTC TWTB","group":"LP-SP","jit":0.265,"dtc":-68.5},
      {"cond":"mDTC TWTB","group":"LP-SP","jit":0.32,"dtc":-66.8},
      {"cond":"mDTC TWTB","group":"LP-SP","jit":0.095,"dtc":-69.3},
      {"cond":"mDTC TWTB","group":"LP-SP","jit":0.135,"dtc":-71.8},
      {"cond":"mDTC TWTB","group":"LP-SP","jit":0.175,"dtc":-72.6},
      {"cond":"mDTC TWTB","group":"LP-SP","jit":0.245,"dtc":-72.6},
      {"cond":"mDTC TWTB","group":"LP-SP","jit":0.125,"dtc":-76.7},
      {"cond":"mDTC TWTB","group":"LP-SP","jit":0.195,"dtc":-80},
      {"cond":"mDTC TWTB","group":"LP-SP","jit":0.165,"dtc":-83.3},
      {"cond":"mDTC TWTB","group":"LP-SP","jit":0.295,"dtc":-80},
      {"cond":"mDTC TWTB","group":"LP-SP","jit":0.345,"dtc":-81.7},
      {"cond":"mDTC TWTB","group":"LP-SP","jit":0.25,"dtc":-85},
      {"cond":"mDTC TWTB","group":"LP-SP","jit":0.075,"dtc":-89.1},
      {"cond":"mDTC TWTB","group":"LP-SP","jit":0.105,"dtc":-90.7},
      {"cond":"mDTC TWTB","group":"LP-SP","jit":0.145,"dtc":-89.9},
      {"cond":"mDTC TWTB","group":"LP-SP","jit":0.215,"dtc":-91.6},
      {"cond":"mDTC TWTB","group":"LP-SP","jit":0.355,"dtc":-90.7},
      {"cond":"mDTC TWTB","group":"LP-SP","jit":0.025,"dtc":-92.4},
      {"cond":"mDTC TWTB","group":"LP-SP","jit":0.245,"dtc":-95.7},
      {"cond":"mDTC TWTB","group":"LP-SP","jit":0.32,"dtc":-95.7},
      {"cond":"mDTC TWTB","group":"LP-SP","jit":0.045,"dtc":-100.6},
      {"cond":"mDTC TWTB","group":"LP-SP","jit":0.2,"dtc":-99.8},
      {"cond":"mDTC TWTB","group":"LP-SP","jit":0.245,"dtc":-99.8},
      {"cond":"mDTC TWTB","group":"LP-SP","jit":0.37,"dtc":-99.8},
      {"cond":"mDTC TWTB","group":"LP-SP","jit":0.4,"dtc":-100.6},
      {"cond":"mDTC TWTB","group":"LP-SP","jit":0.195,"dtc":-104.8},
      {"cond":"mDTC TWTB","group":"LP-SP","jit":0.25,"dtc":-103.1},
      {"cond":"mDTC TWTB","group":"LP-SP","jit":0.335,"dtc":-108.1},
      {"cond":"mDTC TWTB","group":"LP-SP","jit":0.005,"dtc":-109.7},
      {"cond":"mDTC TWTB","group":"LP-SP","jit":0.185,"dtc":-109.7},
      {"cond":"mDTC TWTB","group":"LP-SP","jit":0.225,"dtc":-111.4},
      {"cond":"mDTC TWTB","group":"LP-SP","jit":0.155,"dtc":-114.7},
      {"cond":"mDTC TWTB","group":"LP-SP","jit":0.195,"dtc":-114.7},
      {"cond":"mDTC TWTB","group":"LP-SP","jit":0.235,"dtc":-116.3},
      {"cond":"mDTC TWTB","group":"LP-SP","jit":0.295,"dtc":-113.8},
      {"cond":"mDTC TWTB","group":"LP-SP","jit":0.325,"dtc":-113.8},
      {"cond":"mDTC TWTB","group":"LP-SP","jit":0.365,"dtc":-111.4},
      {"cond":"mDTC TWTB","group":"LP-SP","jit":0.045,"dtc":-118},
      {"cond":"mDTC TWTB","group":"LP-SP","jit":0.06,"dtc":-120.4},
      {"cond":"mDTC TWTB","group":"LP-SP","jit":0.385,"dtc":-119.6},
      {"cond":"mDTC TWTB","group":"LP-SP","jit":0.015,"dtc":-127.9},
      {"cond":"mDTC TWTB","group":"LP-SP","jit":0.055,"dtc":-127},
      {"cond":"mDTC TWTB","group":"LP-SP","jit":0.2,"dtc":-127.9},
      {"cond":"mDTC TWTB","group":"LP-SP","jit":0.355,"dtc":-123.7},
      {"cond":"mDTC TWTB","group":"LP-SP","jit":0.315,"dtc":-130.3},
      {"cond":"mDTC TWTB","group":"LP-SP","jit":0.075,"dtc":-133.6},
      {"cond":"mDTC TWTB","group":"LP-SP","jit":0.125,"dtc":-132},
      {"cond":"mDTC TWTB","group":"LP-SP","jit":0.215,"dtc":-136.9},
      {"cond":"mDTC TWTB","group":"LP-SP","jit":0.255,"dtc":-132.8},
      {"cond":"mDTC TWTB","group":"LP-SP","jit":0.37,"dtc":-134.5},
      {"cond":"mDTC TWTB","group":"LP-SP","jit":0.025,"dtc":-137.8},
      {"cond":"mDTC TWTB","group":"LP-SP","jit":0.345,"dtc":-137.8},
      {"cond":"mDTC TWTB","group":"LP-SP","jit":0.375,"dtc":-139.4},
      {"cond":"mDTC TWTB","group":"LP-SP","jit":0.395,"dtc":-141.1},
      {"cond":"mDTC TWTB","group":"LP-SP","jit":0.025,"dtc":-142.7},
      {"cond":"mDTC TWTB","group":"LP-SP","jit":0.125,"dtc":-143.5},
      {"cond":"mDTC TWTB","group":"LP-SP","jit":0.015,"dtc":-149.3},
      {"cond":"mDTC TWTB","group":"LP-SP","jit":0.045,"dtc":-148.5},
      {"cond":"mDTC TWTB","group":"LP-SP","jit":0.325,"dtc":-147.7},
      {"cond":"mDTC TWTB","group":"LP-SP","jit":0.24,"dtc":-151.8},
      {"cond":"mDTC TWTB","group":"LP-SP","jit":0.275,"dtc":-152.6},
      {"cond":"mDTC TWTB","group":"LP-SP","jit":0.305,"dtc":-151.8},
      {"cond":"mDTC TWTB","group":"LP-SP","jit":0.095,"dtc":-152.6},
      {"cond":"mDTC TWTB","group":"LP-SP","jit":0.025,"dtc":-157.6},
      {"cond":"mDTC TWTB","group":"LP-SP","jit":0.385,"dtc":-156.8},
      {"cond":"mDTC TWTB","group":"LP-SP","jit":0.01,"dtc":-167},
      {"cond":"mDTC TWTB","group":"LP-SP","jit":0.08,"dtc":-170.8},
      {"cond":"mDTC TWTB","group":"LP-SP","jit":0.105,"dtc":-175.7},
      {"cond":"mDTC TWTB","group":"LP-SP","jit":0.175,"dtc":-172.9},
      {"cond":"mDTC TWTB","group":"LP-SP","jit":0.065,"dtc":-190.6},
      {"cond":"mDTC TWTB","group":"LP-SP","jit":0.065,"dtc":-199.3},
      {"cond":"mDTC TWTB","group":"LP-SP","jit":0.275,"dtc":-184.8},
      {"cond":"mDTC TWTB","group":"LP-SP","jit":0.29,"dtc":-190.6},
      {"cond":"mDTC TWTB","group":"LP-SP","jit":0.315,"dtc":-189.4},
      {"cond":"mDTC TWTB","group":"LP-SP","jit":0.34,"dtc":-187.3},
      {"cond":"mDTC TWTB","group":"LP-SP","jit":0.4,"dtc":-181},
      {"cond":"mDTC TWTB","group":"LP-SP","jit":0.305,"dtc":-206.6},
      {"cond":"mDTC TWTB","group":"LP-SP","jit":0.215,"dtc":-210.4},
      {"cond":"mDTC TWTB","group":"LP-SP","jit":0.2,"dtc":-213.7},
      {"cond":"mDTC TWTB","group":"LP-SP","jit":0.25,"dtc":-212.9},
      {"cond":"mDTC TWTB","group":"LP-SP","jit":0.08,"dtc":-217.8},
      {"cond":"mDTC TWTB","group":"LP-SP","jit":0.12,"dtc":-220.8},
      {"cond":"mDTC TWTB","group":"LP-SP","jit":0.135,"dtc":-250.8},
      {"cond":"mDTC TWTB","group":"LP-SP","jit":0.265,"dtc":-264.8},
      {"cond":"mDTC TWTB","group":"LP-SP","jit":0.355,"dtc":-262},
      {"cond":"mDTC TWTB","group":"LP-SP","jit":0.225,"dtc":-296.7},
      {"cond":"mDTC TWTB","group":"LP-SP","jit":0.14,"dtc":-329.2},
      {"cond":"cDTC TWTA","group":"HP-SP","jit":-0.33,"dtc":27.2},
      {"cond":"cDTC TWTA","group":"HP-SP","jit":-0.25,"dtc":25.1},
      {"cond":"cDTC TWTA","group":"HP-SP","jit":-0.18,"dtc":31},
      {"cond":"cDTC TWTA","group":"HP-SP","jit":-0.17,"dtc":26.4},
      {"cond":"cDTC TWTA","group":"HP-SP","jit":-0.145,"dtc":25.6},
      {"cond":"cDTC TWTA","group":"HP-SP","jit":-0.075,"dtc":29.7},
      {"cond":"cDTC TWTA","group":"HP-SP","jit":-0.13,"dtc":19.8},
      {"cond":"cDTC TWTA","group":"HP-SP","jit":-0.045,"dtc":15.7},
      {"cond":"cDTC TWTA","group":"HP-SP","jit":-0.165,"dtc":12.4},
      {"cond":"cDTC TWTA","group":"HP-SP","jit":-0.125,"dtc":9.1},
      {"cond":"cDTC TWTA","group":"HP-SP","jit":-0.315,"dtc":6.3},
      {"cond":"cDTC TWTA","group":"HP-SP","jit":-0.285,"dtc":2.5},
      {"cond":"cDTC TWTA","group":"HP-SP","jit":-0.27,"dtc":0.8},
      {"cond":"cDTC TWTA","group":"HP-SP","jit":-0.26,"dtc":-2.5},
      {"cond":"cDTC TWTA","group":"HP-SP","jit":-0.335,"dtc":-0.8},
      {"cond":"cDTC TWTA","group":"HP-SP","jit":-0.13,"dtc":1.7},
      {"cond":"cDTC TWTA","group":"HP-SP","jit":-0.14,"dtc":0},
      {"cond":"cDTC TWTA","group":"HP-SP","jit":-0.19,"dtc":-3.3},
      {"cond":"cDTC TWTA","group":"HP-SP","jit":-0.07,"dtc":-2},
      {"cond":"cDTC TWTA","group":"HP-SP","jit":-0.27,"dtc":-5.8},
      {"cond":"cDTC TWTA","group":"HP-SP","jit":-0.035,"dtc":-5.8},
      {"cond":"cDTC TWTA","group":"HP-SP","jit":-0.01,"dtc":-8.3},
      {"cond":"cDTC TWTA","group":"HP-SP","jit":-0.37,"dtc":-10.7},
      {"cond":"cDTC TWTA","group":"HP-SP","jit":-0.335,"dtc":-11.5},
      {"cond":"cDTC TWTA","group":"HP-SP","jit":-0.205,"dtc":-16.5},
      {"cond":"cDTC TWTA","group":"HP-SP","jit":-0.025,"dtc":-16.5},
      {"cond":"cDTC TWTA","group":"HP-SP","jit":-0.345,"dtc":-18.1},
      {"cond":"cDTC TWTA","group":"HP-SP","jit":-0.245,"dtc":-23.1},
      {"cond":"cDTC TWTA","group":"HP-SP","jit":-0.135,"dtc":-21.4},
      {"cond":"cDTC TWTA","group":"HP-SP","jit":-0.1,"dtc":-24.7},
      {"cond":"cDTC TWTA","group":"HP-SP","jit":-0.1,"dtc":-26.4},
      {"cond":"cDTC TWTA","group":"HP-SP","jit":-0.395,"dtc":-28.9},
      {"cond":"cDTC TWTA","group":"HP-SP","jit":-0.38,"dtc":-27.2},
      {"cond":"cDTC TWTA","group":"HP-SP","jit":-0.35,"dtc":-29.7},
      {"cond":"cDTC TWTA","group":"HP-SP","jit":-0.24,"dtc":-30.5},
      {"cond":"cDTC TWTA","group":"HP-SP","jit":-0.23,"dtc":-32.2},
      {"cond":"cDTC TWTA","group":"HP-SP","jit":-0.015,"dtc":-28},
      {"cond":"cDTC TWTA","group":"HP-SP","jit":-0.01,"dtc":-30.5},
      {"cond":"cDTC TWTA","group":"HP-SP","jit":-0.37,"dtc":-37.1},
      {"cond":"cDTC TWTA","group":"HP-SP","jit":-0.335,"dtc":-36.3},
      {"cond":"cDTC TWTA","group":"HP-SP","jit":-0.315,"dtc":-39.6},
      {"cond":"cDTC TWTA","group":"HP-SP","jit":-0.285,"dtc":-38.8},
      {"cond":"cDTC TWTA","group":"HP-SP","jit":-0.175,"dtc":-36.3},
      {"cond":"cDTC TWTA","group":"HP-SP","jit":-0.16,"dtc":-37.1},
      {"cond":"cDTC TWTA","group":"HP-SP","jit":-0.145,"dtc":-37.9},
      {"cond":"cDTC TWTA","group":"HP-SP","jit":-0.195,"dtc":-41.2},
      {"cond":"cDTC TWTA","group":"HP-SP","jit":-0.215,"dtc":-44.5},
      {"cond":"cDTC TWTA","group":"HP-SP","jit":-0.175,"dtc":-46.2},
      {"cond":"cDTC TWTA","group":"HP-SP","jit":-0.325,"dtc":-43.7},
      {"cond":"cDTC TWTA","group":"HP-SP","jit":-0.11,"dtc":-44.2},
      {"cond":"cDTC TWTA","group":"HP-SP","jit":-0.06,"dtc":-41.2},
      {"cond":"cDTC TWTA","group":"HP-SP","jit":-0.05,"dtc":-45.4},
      {"cond":"cDTC TWTA","group":"HP-SP","jit":-0.015,"dtc":-37.9},
      {"cond":"cDTC TWTA","group":"HP-SP","jit":-0.37,"dtc":-54.4},
      {"cond":"cDTC TWTA","group":"HP-SP","jit":-0.305,"dtc":-54.4},
      {"cond":"cDTC TWTA","group":"HP-SP","jit":-0.275,"dtc":-56.1},
      {"cond":"cDTC TWTA","group":"HP-SP","jit":-0.255,"dtc":-56.9},
      {"cond":"cDTC TWTA","group":"HP-SP","jit":-0.18,"dtc":-53.6},
      {"cond":"cDTC TWTA","group":"HP-SP","jit":-0.155,"dtc":-55.3},
      {"cond":"cDTC TWTA","group":"HP-SP","jit":-0.005,"dtc":-52.8},
      {"cond":"cDTC TWTA","group":"HP-SP","jit":-0.345,"dtc":-60.2},
      {"cond":"cDTC TWTA","group":"HP-SP","jit":0,"dtc":-58.6},
      {"cond":"cDTC TWTA","group":"HP-SP","jit":-0.18,"dtc":-62.7},
      {"cond":"cDTC TWTA","group":"HP-SP","jit":-0.3,"dtc":-66.8},
      {"cond":"cDTC TWTA","group":"HP-SP","jit":-0.285,"dtc":-68.5},
      {"cond":"cDTC TWTA","group":"HP-SP","jit":-0.265,"dtc":-66},
      {"cond":"cDTC TWTA","group":"HP-SP","jit":-0.245,"dtc":-66.8},
      {"cond":"cDTC TWTA","group":"HP-SP","jit":-0.215,"dtc":-66},
      {"cond":"cDTC TWTA","group":"HP-SP","jit":-0.135,"dtc":-66},
      {"cond":"cDTC TWTA","group":"HP-SP","jit":-0.115,"dtc":-68.5},
      {"cond":"cDTC TWTA","group":"HP-SP","jit":-0.065,"dtc":-66},
      {"cond":"cDTC TWTA","group":"HP-SP","jit":-0.025,"dtc":-67.6},
      {"cond":"cDTC TWTA","group":"HP-SP","jit":0,"dtc":-65.2},
      {"cond":"cDTC TWTA","group":"HP-SP","jit":-0.395,"dtc":-71.8},
      {"cond":"cDTC TWTA","group":"HP-SP","jit":-0.205,"dtc":-72.3},
      {"cond":"cDTC TWTA","group":"HP-SP","jit":-0.145,"dtc":-69.3},
      {"cond":"cDTC TWTA","group":"HP-SP","jit":-0.075,"dtc":-73.4},
      {"cond":"cDTC TWTA","group":"HP-SP","jit":-0.15,"dtc":-79.2},
      {"cond":"cDTC TWTA","group":"HP-SP","jit":-0.115,"dtc":-81.2},
      {"cond":"cDTC TWTA","group":"HP-SP","jit":-0.295,"dtc":-83.3},
      {"cond":"cDTC TWTA","group":"HP-SP","jit":-0.38,"dtc":-85.8},
      {"cond":"cDTC TWTA","group":"HP-SP","jit":-0.365,"dtc":-89.9},
      {"cond":"cDTC TWTA","group":"HP-SP","jit":-0.295,"dtc":-89.1},
      {"cond":"cDTC TWTA","group":"HP-SP","jit":-0.195,"dtc":-89.9},
      {"cond":"cDTC TWTA","group":"HP-SP","jit":-0.14,"dtc":-86.6},
      {"cond":"cDTC TWTA","group":"HP-SP","jit":-0.115,"dtc":-87.4},
      {"cond":"cDTC TWTA","group":"HP-SP","jit":-0.005,"dtc":-90.7},
      {"cond":"cDTC TWTA","group":"HP-SP","jit":-0.01,"dtc":-94.9},
      {"cond":"cDTC TWTA","group":"HP-SP","jit":-0.155,"dtc":-96.5},
      {"cond":"cDTC TWTA","group":"HP-SP","jit":-0.26,"dtc":-99},
      {"cond":"cDTC TWTA","group":"HP-SP","jit":-0.28,"dtc":-104.8},
      {"cond":"cDTC TWTA","group":"HP-SP","jit":-0.03,"dtc":-106.4},
      {"cond":"cDTC TWTA","group":"HP-SP","jit":-0.175,"dtc":-108.9},
      {"cond":"cDTC TWTA","group":"HP-SP","jit":-0.31,"dtc":-108.9},
      {"cond":"cDTC TWTA","group":"HP-SP","jit":-0.34,"dtc":-110.5},
      {"cond":"cDTC TWTA","group":"HP-SP","jit":-0.005,"dtc":-110.5},
      {"cond":"cDTC TWTA","group":"HP-SP","jit":-0.23,"dtc":-118.8},
      {"cond":"cDTC TWTA","group":"HP-SP","jit":-0.18,"dtc":-122.1},
      {"cond":"cDTC TWTA","group":"HP-SP","jit":-0.15,"dtc":-123.8},
      {"cond":"cDTC TWTA","group":"HP-SP","jit":-0.345,"dtc":-127.1},
      {"cond":"cDTC TWTA","group":"HP-SP","jit":-0.305,"dtc":-126.6},
      {"cond":"cDTC TWTA","group":"HP-SP","jit":-0.28,"dtc":-125.4},
      {"cond":"cDTC TWTA","group":"HP-SP","jit":-0.37,"dtc":-132},
      {"cond":"cDTC TWTA","group":"HP-SP","jit":-0.34,"dtc":-134.5},
      {"cond":"cDTC TWTA","group":"HP-SP","jit":-0.04,"dtc":-123.8},
      {"cond":"cDTC TWTA","group":"HP-SP","jit":-0.055,"dtc":-131.5},
      {"cond":"cDTC TWTA","group":"HP-SP","jit":-0.12,"dtc":-135.8},
      {"cond":"cDTC TWTA","group":"HP-SP","jit":-0.175,"dtc":-140.3},
      {"cond":"cDTC TWTA","group":"HP-SP","jit":-0.155,"dtc":-141.1},
      {"cond":"cDTC TWTA","group":"HP-SP","jit":-0.395,"dtc":-145.2},
      {"cond":"cDTC TWTA","group":"HP-SP","jit":-0.34,"dtc":-150.5},
      {"cond":"cDTC TWTA","group":"HP-SP","jit":0,"dtc":-149.7},
      {"cond":"cDTC TWTA","group":"HP-SP","jit":-0.045,"dtc":-160.6},
      {"cond":"cDTC TWTA","group":"HP-SP","jit":-0.39,"dtc":-174.9},
      {"cond":"cDTC TWTA","group":"HP-SP","jit":-0.16,"dtc":-180.7},
      {"cond":"cDTC TWTA","group":"HP-SP","jit":-0.375,"dtc":-210.9},
      {"cond":"cDTC TWTA","group":"HP-SP","jit":-0.25,"dtc":-214.8},
      {"cond":"cDTC TWTA","group":"HP-SP","jit":-0.125,"dtc":-240.4},
      {"cond":"cDTC TWTA","group":"HP-SP","jit":-0.235,"dtc":-264},
      {"cond":"cDTC TWTA","group":"HP-SP","jit":0,"dtc":-277.2},
      {"cond":"cDTC TWTA","group":"HP-SP","jit":-0.01,"dtc":-117.2},
      {"cond":"cDTC TWTA","group":"LP-SP","jit":0.29,"dtc":53.1},
      {"cond":"cDTC TWTA","group":"LP-SP","jit":0.01,"dtc":42.9},
      {"cond":"cDTC TWTA","group":"LP-SP","jit":0.265,"dtc":37.1},
      {"cond":"cDTC TWTA","group":"LP-SP","jit":0.345,"dtc":37.9},
      {"cond":"cDTC TWTA","group":"LP-SP","jit":0.39,"dtc":39.6},
      {"cond":"cDTC TWTA","group":"LP-SP","jit":0.32,"dtc":33},
      {"cond":"cDTC TWTA","group":"LP-SP","jit":0.04,"dtc":32.2},
      {"cond":"cDTC TWTA","group":"LP-SP","jit":0.12,"dtc":30.5},
      {"cond":"cDTC TWTA","group":"LP-SP","jit":0.21,"dtc":28.1},
      {"cond":"cDTC TWTA","group":"LP-SP","jit":0.28,"dtc":27.2},
      {"cond":"cDTC TWTA","group":"LP-SP","jit":0.315,"dtc":25.6},
      {"cond":"cDTC TWTA","group":"LP-SP","jit":0.255,"dtc":23.1},
      {"cond":"cDTC TWTA","group":"LP-SP","jit":0.055,"dtc":21.5},
      {"cond":"cDTC TWTA","group":"LP-SP","jit":0.185,"dtc":19.8},
      {"cond":"cDTC TWTA","group":"LP-SP","jit":0.38,"dtc":23.1},
      {"cond":"cDTC TWTA","group":"LP-SP","jit":0.245,"dtc":16.5},
      {"cond":"cDTC TWTA","group":"LP-SP","jit":0.07,"dtc":14.9},
      {"cond":"cDTC TWTA","group":"LP-SP","jit":0.115,"dtc":11.5},
      {"cond":"cDTC TWTA","group":"LP-SP","jit":0.095,"dtc":8.3},
      {"cond":"cDTC TWTA","group":"LP-SP","jit":0.125,"dtc":9.9},
      {"cond":"cDTC TWTA","group":"LP-SP","jit":0.235,"dtc":9.9},
      {"cond":"cDTC TWTA","group":"LP-SP","jit":0.36,"dtc":14.9},
      {"cond":"cDTC TWTA","group":"LP-SP","jit":0.375,"dtc":14},
      {"cond":"cDTC TWTA","group":"LP-SP","jit":0.405,"dtc":14.9},
      {"cond":"cDTC TWTA","group":"LP-SP","jit":0.24,"dtc":5.8},
      {"cond":"cDTC TWTA","group":"LP-SP","jit":0.295,"dtc":5},
      {"cond":"cDTC TWTA","group":"LP-SP","jit":0.325,"dtc":6.6},
      {"cond":"cDTC TWTA","group":"LP-SP","jit":0.375,"dtc":5.8},
      {"cond":"cDTC TWTA","group":"LP-SP","jit":0.03,"dtc":-0.8},
      {"cond":"cDTC TWTA","group":"LP-SP","jit":0.055,"dtc":-2.5},
      {"cond":"cDTC TWTA","group":"LP-SP","jit":0.175,"dtc":-2.5},
      {"cond":"cDTC TWTA","group":"LP-SP","jit":0.205,"dtc":-2.5},
      {"cond":"cDTC TWTA","group":"LP-SP","jit":0.285,"dtc":0},
      {"cond":"cDTC TWTA","group":"LP-SP","jit":0.065,"dtc":-5.8},
      {"cond":"cDTC TWTA","group":"LP-SP","jit":0.11,"dtc":-7.4},
      {"cond":"cDTC TWTA","group":"LP-SP","jit":0.165,"dtc":-6.6},
      {"cond":"cDTC TWTA","group":"LP-SP","jit":0.195,"dtc":-8.3},
      {"cond":"cDTC TWTA","group":"LP-SP","jit":0.215,"dtc":-6.6},
      {"cond":"cDTC TWTA","group":"LP-SP","jit":0.275,"dtc":-5.8},
      {"cond":"cDTC TWTA","group":"LP-SP","jit":0.335,"dtc":-5},
      {"cond":"cDTC TWTA","group":"LP-SP","jit":0.355,"dtc":-8.3},
      {"cond":"cDTC TWTA","group":"LP-SP","jit":0.25,"dtc":-13.2},
      {"cond":"cDTC TWTA","group":"LP-SP","jit":0.145,"dtc":-16.5},
      {"cond":"cDTC TWTA","group":"LP-SP","jit":0.015,"dtc":-18.1},
      {"cond":"cDTC TWTA","group":"LP-SP","jit":0.095,"dtc":-23.1},
      {"cond":"cDTC TWTA","group":"LP-SP","jit":0.345,"dtc":-18.1},
      {"cond":"cDTC TWTA","group":"LP-SP","jit":0.385,"dtc":-20.6},
      {"cond":"cDTC TWTA","group":"LP-SP","jit":0.345,"dtc":-23.1},
      {"cond":"cDTC TWTA","group":"LP-SP","jit":0.365,"dtc":-25.6},
      {"cond":"cDTC TWTA","group":"LP-SP","jit":0.025,"dtc":-27.2},
      {"cond":"cDTC TWTA","group":"LP-SP","jit":0.195,"dtc":-28.9},
      {"cond":"cDTC TWTA","group":"LP-SP","jit":0.07,"dtc":-33.8},
      {"cond":"cDTC TWTA","group":"LP-SP","jit":0.135,"dtc":-35.5},
      {"cond":"cDTC TWTA","group":"LP-SP","jit":0.185,"dtc":-35.5},
      {"cond":"cDTC TWTA","group":"LP-SP","jit":0.245,"dtc":-35.5},
      {"cond":"cDTC TWTA","group":"LP-SP","jit":0.265,"dtc":-35.5},
      {"cond":"cDTC TWTA","group":"LP-SP","jit":0.365,"dtc":-36.3},
      {"cond":"cDTC TWTA","group":"LP-SP","jit":0.075,"dtc":-39.6},
      {"cond":"cDTC TWTA","group":"LP-SP","jit":0.11,"dtc":-42.9},
      {"cond":"cDTC TWTA","group":"LP-SP","jit":0.165,"dtc":-42.1},
      {"cond":"cDTC TWTA","group":"LP-SP","jit":0.185,"dtc":-41.2},
      {"cond":"cDTC TWTA","group":"LP-SP","jit":0.225,"dtc":-42.9},
      {"cond":"cDTC TWTA","group":"LP-SP","jit":0.29,"dtc":-42.1},
      {"cond":"cDTC TWTA","group":"LP-SP","jit":0.01,"dtc":-45.4},
      {"cond":"cDTC TWTA","group":"LP-SP","jit":0.41,"dtc":-45.9},
      {"cond":"cDTC TWTA","group":"LP-SP","jit":0.06,"dtc":-49.5},
      {"cond":"cDTC TWTA","group":"LP-SP","jit":0.115,"dtc":-50.3},
      {"cond":"cDTC TWTA","group":"LP-SP","jit":0.265,"dtc":-49.5},
      {"cond":"cDTC TWTA","group":"LP-SP","jit":0.045,"dtc":-55.3},
      {"cond":"cDTC TWTA","group":"LP-SP","jit":0.075,"dtc":-52.8},
      {"cond":"cDTC TWTA","group":"LP-SP","jit":0.275,"dtc":-57.7},
      {"cond":"cDTC TWTA","group":"LP-SP","jit":0.3,"dtc":-56.9},
      {"cond":"cDTC TWTA","group":"LP-SP","jit":0.115,"dtc":-60.2},
      {"cond":"cDTC TWTA","group":"LP-SP","jit":0.135,"dtc":-62.7},
      {"cond":"cDTC TWTA","group":"LP-SP","jit":0.35,"dtc":-61.9},
      {"cond":"cDTC TWTA","group":"LP-SP","jit":0.405,"dtc":-59.4},
      {"cond":"cDTC TWTA","group":"LP-SP","jit":0.405,"dtc":-62.7},
      {"cond":"cDTC TWTA","group":"LP-SP","jit":0.09,"dtc":-68.5},
      {"cond":"cDTC TWTA","group":"LP-SP","jit":0.17,"dtc":-70.9},
      {"cond":"cDTC TWTA","group":"LP-SP","jit":0.365,"dtc":-70.9},
      {"cond":"cDTC TWTA","group":"LP-SP","jit":0.05,"dtc":-77.5},
      {"cond":"cDTC TWTA","group":"LP-SP","jit":0.275,"dtc":-75.1},
      {"cond":"cDTC TWTA","group":"LP-SP","jit":0.315,"dtc":-80.8},
      {"cond":"cDTC TWTA","group":"LP-SP","jit":0.105,"dtc":-84.1},
      {"cond":"cDTC TWTA","group":"LP-SP","jit":0.16,"dtc":-88.3},
      {"cond":"cDTC TWTA","group":"LP-SP","jit":0.275,"dtc":-89.9},
      {"cond":"cDTC TWTA","group":"LP-SP","jit":0.295,"dtc":-90.7},
      {"cond":"cDTC TWTA","group":"LP-SP","jit":0.12,"dtc":-92.4},
      {"cond":"cDTC TWTA","group":"LP-SP","jit":0.155,"dtc":-99},
      {"cond":"cDTC TWTA","group":"LP-SP","jit":0.195,"dtc":-99},
      {"cond":"cDTC TWTA","group":"LP-SP","jit":0.235,"dtc":-99.8},
      {"cond":"cDTC TWTA","group":"LP-SP","jit":0.255,"dtc":-99},
      {"cond":"cDTC TWTA","group":"LP-SP","jit":0.315,"dtc":-99},
      {"cond":"cDTC TWTA","group":"LP-SP","jit":0.155,"dtc":-103.1},
      {"cond":"cDTC TWTA","group":"LP-SP","jit":0.025,"dtc":-104.8},
      {"cond":"cDTC TWTA","group":"LP-SP","jit":0.315,"dtc":-103.1},
      {"cond":"cDTC TWTA","group":"LP-SP","jit":0.285,"dtc":-108.9},
      {"cond":"cDTC TWTA","group":"LP-SP","jit":0.265,"dtc":-113.8},
      {"cond":"cDTC TWTA","group":"LP-SP","jit":0.3,"dtc":-113},
      {"cond":"cDTC TWTA","group":"LP-SP","jit":0.115,"dtc":-119.3},
      {"cond":"cDTC TWTA","group":"LP-SP","jit":0.16,"dtc":-121.3},
      {"cond":"cDTC TWTA","group":"LP-SP","jit":0.015,"dtc":-124.3},
      {"cond":"cDTC TWTA","group":"LP-SP","jit":0.135,"dtc":-127.9},
      {"cond":"cDTC TWTA","group":"LP-SP","jit":0.09,"dtc":-133.2},
      {"cond":"cDTC TWTA","group":"LP-SP","jit":0.345,"dtc":-131.5},
      {"cond":"cDTC TWTA","group":"LP-SP","jit":0.01,"dtc":-137.5},
      {"cond":"cDTC TWTA","group":"LP-SP","jit":0.25,"dtc":-142.7},
      {"cond":"cDTC TWTA","group":"LP-SP","jit":0.33,"dtc":-141.9},
      {"cond":"cDTC TWTA","group":"LP-SP","jit":0.4,"dtc":-144.7},
      {"cond":"cDTC TWTA","group":"LP-SP","jit":0.29,"dtc":-157.9},
      {"cond":"cDTC TWTA","group":"LP-SP","jit":0.02,"dtc":-165.5},
      {"cond":"cDTC TWTA","group":"LP-SP","jit":0.065,"dtc":-165.8},
      {"cond":"cDTC TWTA","group":"LP-SP","jit":0.105,"dtc":-175.7},
      {"cond":"cDTC TWTA","group":"LP-SP","jit":0.075,"dtc":-197.2},
      {"cond":"cDTC TWTA","group":"LP-SP","jit":0.11,"dtc":-199.7},
      {"cond":"cDTC TWTA","group":"LP-SP","jit":0.38,"dtc":-222.8},
      {"cond":"cDTC TWTA","group":"LP-SP","jit":0.1,"dtc":-230.2},
      {"cond":"cDTC TWTA","group":"LP-SP","jit":0.26,"dtc":-231},
      {"cond":"cDTC TWTA","group":"LP-SP","jit":0.175,"dtc":-297},
      {"cond":"cDTC TWTA","group":"LP-SP","jit":0.26,"dtc":-116.3},
      {"cond":"cDTC TWTB","group":"HP-SP","jit":-0.145,"dtc":56.1},
      {"cond":"cDTC TWTB","group":"HP-SP","jit":-0.07,"dtc":55.3},
      {"cond":"cDTC TWTB","group":"HP-SP","jit":-0.02,"dtc":49.5},
      {"cond":"cDTC TWTB","group":"HP-SP","jit":-0.01,"dtc":43.7},
      {"cond":"cDTC TWTB","group":"HP-SP","jit":-0.31,"dtc":43.7},
      {"cond":"cDTC TWTB","group":"HP-SP","jit":-0.285,"dtc":41.3},
      {"cond":"cDTC TWTB","group":"HP-SP","jit":-0.265,"dtc":39.6},
      {"cond":"cDTC TWTB","group":"HP-SP","jit":-0.215,"dtc":42.9},
      {"cond":"cDTC TWTB","group":"HP-SP","jit":-0.115,"dtc":42.1},
      {"cond":"cDTC TWTB","group":"HP-SP","jit":-0.315,"dtc":36.3},
      {"cond":"cDTC TWTB","group":"HP-SP","jit":-0.36,"dtc":31.4},
      {"cond":"cDTC TWTB","group":"HP-SP","jit":-0.235,"dtc":29.7},
      {"cond":"cDTC TWTB","group":"HP-SP","jit":-0.21,"dtc":29.7},
      {"cond":"cDTC TWTB","group":"HP-SP","jit":-0.185,"dtc":31.4},
      {"cond":"cDTC TWTB","group":"HP-SP","jit":-0.105,"dtc":31.4},
      {"cond":"cDTC TWTB","group":"HP-SP","jit":-0.075,"dtc":33},
      {"cond":"cDTC TWTB","group":"HP-SP","jit":-0.005,"dtc":33.8},
      {"cond":"cDTC TWTB","group":"HP-SP","jit":-0.285,"dtc":25.6},
      {"cond":"cDTC TWTB","group":"HP-SP","jit":-0.12,"dtc":25.6},
      {"cond":"cDTC TWTB","group":"HP-SP","jit":-0.36,"dtc":23.1},
      {"cond":"cDTC TWTB","group":"HP-SP","jit":-0.335,"dtc":19.8},
      {"cond":"cDTC TWTB","group":"HP-SP","jit":-0.11,"dtc":20.6},
      {"cond":"cDTC TWTB","group":"HP-SP","jit":-0.02,"dtc":23.1},
      {"cond":"cDTC TWTB","group":"HP-SP","jit":-0.145,"dtc":15.7},
      {"cond":"cDTC TWTB","group":"HP-SP","jit":-0.125,"dtc":15.7},
      {"cond":"cDTC TWTB","group":"HP-SP","jit":-0.1,"dtc":18.2},
      {"cond":"cDTC TWTB","group":"HP-SP","jit":-0.345,"dtc":12.4},
      {"cond":"cDTC TWTB","group":"HP-SP","jit":-0.305,"dtc":12.4},
      {"cond":"cDTC TWTB","group":"HP-SP","jit":-0.065,"dtc":14.9},
      {"cond":"cDTC TWTB","group":"HP-SP","jit":-0.02,"dtc":15.7},
      {"cond":"cDTC TWTB","group":"HP-SP","jit":-0.235,"dtc":7.4},
      {"cond":"cDTC TWTB","group":"HP-SP","jit":-0.205,"dtc":5.8},
      {"cond":"cDTC TWTB","group":"HP-SP","jit":-0.19,"dtc":2.5},
      {"cond":"cDTC TWTB","group":"HP-SP","jit":-0.145,"dtc":6.6},
      {"cond":"cDTC TWTB","group":"HP-SP","jit":-0.1,"dtc":9.9},
      {"cond":"cDTC TWTB","group":"HP-SP","jit":-0.06,"dtc":9.1},
      {"cond":"cDTC TWTB","group":"HP-SP","jit":-0.035,"dtc":4.1},
      {"cond":"cDTC TWTB","group":"HP-SP","jit":-0.25,"dtc":0.8},
      {"cond":"cDTC TWTB","group":"HP-SP","jit":-0.275,"dtc":-3.3},
      {"cond":"cDTC TWTB","group":"HP-SP","jit":-0.32,"dtc":-2.5},
      {"cond":"cDTC TWTB","group":"HP-SP","jit":-0.14,"dtc":-1.6},
      {"cond":"cDTC TWTB","group":"HP-SP","jit":-0.09,"dtc":1.7},
      {"cond":"cDTC TWTB","group":"HP-SP","jit":-0.07,"dtc":-2.5},
      {"cond":"cDTC TWTB","group":"HP-SP","jit":-0.23,"dtc":-5.8},
      {"cond":"cDTC TWTB","group":"HP-SP","jit":-0.345,"dtc":-9.9},
      {"cond":"cDTC TWTB","group":"HP-SP","jit":-0.375,"dtc":-11.5},
      {"cond":"cDTC TWTB","group":"HP-SP","jit":-0.255,"dtc":-12.4},
      {"cond":"cDTC TWTB","group":"HP-SP","jit":-0.185,"dtc":-10.7},
      {"cond":"cDTC TWTB","group":"HP-SP","jit":-0.155,"dtc":-11.5},
      {"cond":"cDTC TWTB","group":"HP-SP","jit":-0.12,"dtc":-14},
      {"cond":"cDTC TWTB","group":"HP-SP","jit":-0.035,"dtc":-10.7},
      {"cond":"cDTC TWTB","group":"HP-SP","jit":-0.02,"dtc":-16.5},
      {"cond":"cDTC TWTB","group":"HP-SP","jit":-0.045,"dtc":-16.5},
      {"cond":"cDTC TWTB","group":"HP-SP","jit":-0.39,"dtc":-22.3},
      {"cond":"cDTC TWTB","group":"HP-SP","jit":-0.335,"dtc":-22.3},
      {"cond":"cDTC TWTB","group":"HP-SP","jit":-0.325,"dtc":-27.2},
      {"cond":"cDTC TWTB","group":"HP-SP","jit":-0.265,"dtc":-24.7},
      {"cond":"cDTC TWTB","group":"HP-SP","jit":-0.23,"dtc":-19},
      {"cond":"cDTC TWTB","group":"HP-SP","jit":-0.145,"dtc":-21.4},
      {"cond":"cDTC TWTB","group":"HP-SP","jit":-0.095,"dtc":-17.3},
      {"cond":"cDTC TWTB","group":"HP-SP","jit":-0.065,"dtc":-22.3},
      {"cond":"cDTC TWTB","group":"HP-SP","jit":-0.105,"dtc":-27.2},
      {"cond":"cDTC TWTB","group":"HP-SP","jit":-0.275,"dtc":-34.6},
      {"cond":"cDTC TWTB","group":"HP-SP","jit":-0.26,"dtc":-37.9},
      {"cond":"cDTC TWTB","group":"HP-SP","jit":-0.195,"dtc":-37.9},
      {"cond":"cDTC TWTB","group":"HP-SP","jit":-0.175,"dtc":-36.3},
      {"cond":"cDTC TWTB","group":"HP-SP","jit":-0.105,"dtc":-35.5},
      {"cond":"cDTC TWTB","group":"HP-SP","jit":-0.355,"dtc":-43.7},
      {"cond":"cDTC TWTB","group":"HP-SP","jit":-0.325,"dtc":-43.7},
      {"cond":"cDTC TWTB","group":"HP-SP","jit":-0.295,"dtc":-42.9},
      {"cond":"cDTC TWTB","group":"HP-SP","jit":-0.205,"dtc":-45.4},
      {"cond":"cDTC TWTB","group":"HP-SP","jit":-0.165,"dtc":-47.8},
      {"cond":"cDTC TWTB","group":"HP-SP","jit":-0.115,"dtc":-47.8},
      {"cond":"cDTC TWTB","group":"HP-SP","jit":-0.075,"dtc":-44.5},
      {"cond":"cDTC TWTB","group":"HP-SP","jit":-0.065,"dtc":-48.7},
      {"cond":"cDTC TWTB","group":"HP-SP","jit":-0.02,"dtc":-47.8},
      {"cond":"cDTC TWTB","group":"HP-SP","jit":-0.26,"dtc":-48.7},
      {"cond":"cDTC TWTB","group":"HP-SP","jit":-0.38,"dtc":-55.3},
      {"cond":"cDTC TWTB","group":"HP-SP","jit":-0.345,"dtc":-59.4},
      {"cond":"cDTC TWTB","group":"HP-SP","jit":-0.315,"dtc":-54.4},
      {"cond":"cDTC TWTB","group":"HP-SP","jit":-0.27,"dtc":-56.9},
      {"cond":"cDTC TWTB","group":"HP-SP","jit":-0.175,"dtc":-52.8},
      {"cond":"cDTC TWTB","group":"HP-SP","jit":-0.145,"dtc":-54.4},
      {"cond":"cDTC TWTB","group":"HP-SP","jit":-0.155,"dtc":-58.6},
      {"cond":"cDTC TWTB","group":"HP-SP","jit":-0.095,"dtc":-57.7},
      {"cond":"cDTC TWTB","group":"HP-SP","jit":-0.075,"dtc":-55.3},
      {"cond":"cDTC TWTB","group":"HP-SP","jit":-0.32,"dtc":-62.7},
      {"cond":"cDTC TWTB","group":"HP-SP","jit":-0.285,"dtc":-65.2},
      {"cond":"cDTC TWTB","group":"HP-SP","jit":-0.25,"dtc":-67.6},
      {"cond":"cDTC TWTB","group":"HP-SP","jit":-0.2,"dtc":-66.8},
      {"cond":"cDTC TWTB","group":"HP-SP","jit":-0.155,"dtc":-69.3},
      {"cond":"cDTC TWTB","group":"HP-SP","jit":-0.125,"dtc":-70.1},
      {"cond":"cDTC TWTB","group":"HP-SP","jit":-0.09,"dtc":-63.5},
      {"cond":"cDTC TWTB","group":"HP-SP","jit":-0.1,"dtc":-67.6},
      {"cond":"cDTC TWTB","group":"HP-SP","jit":-0.375,"dtc":-73.4},
      {"cond":"cDTC TWTB","group":"HP-SP","jit":-0.195,"dtc":-75.1},
      {"cond":"cDTC TWTB","group":"HP-SP","jit":-0.34,"dtc":-81.7},
      {"cond":"cDTC TWTB","group":"HP-SP","jit":-0.36,"dtc":-88.3},
      {"cond":"cDTC TWTB","group":"HP-SP","jit":-0.325,"dtc":-93.2},
      {"cond":"cDTC TWTB","group":"HP-SP","jit":-0.09,"dtc":-88.3},
      {"cond":"cDTC TWTB","group":"HP-SP","jit":-0.325,"dtc":-94.1},
      {"cond":"cDTC TWTB","group":"HP-SP","jit":-0.255,"dtc":-95.2},
      {"cond":"cDTC TWTB","group":"HP-SP","jit":-0.175,"dtc":-99},
      {"cond":"cDTC TWTB","group":"HP-SP","jit":-0.13,"dtc":-96.5},
      {"cond":"cDTC TWTB","group":"HP-SP","jit":-0.115,"dtc":-99.8},
      {"cond":"cDTC TWTB","group":"HP-SP","jit":-0.345,"dtc":-105.3},
      {"cond":"cDTC TWTB","group":"HP-SP","jit":-0.305,"dtc":-109.1},
      {"cond":"cDTC TWTB","group":"HP-SP","jit":-0.245,"dtc":-104.8},
      {"cond":"cDTC TWTB","group":"HP-SP","jit":-0.245,"dtc":-112.2},
      {"cond":"cDTC TWTB","group":"HP-SP","jit":-0.11,"dtc":-116.3},
      {"cond":"cDTC TWTB","group":"HP-SP","jit":-0.28,"dtc":-127.1},
      {"cond":"cDTC TWTB","group":"HP-SP","jit":-0.265,"dtc":-129.2},
      {"cond":"cDTC TWTB","group":"HP-SP","jit":-0.085,"dtc":-132},
      {"cond":"cDTC TWTB","group":"HP-SP","jit":-0.385,"dtc":-138.3},
      {"cond":"cDTC TWTB","group":"HP-SP","jit":-0.055,"dtc":-140.3},
      {"cond":"cDTC TWTB","group":"HP-SP","jit":-0.32,"dtc":-147.2},
      {"cond":"cDTC TWTB","group":"HP-SP","jit":-0.3,"dtc":-169.8},
      {"cond":"cDTC TWTB","group":"HP-SP","jit":-0.035,"dtc":-189.4},
      {"cond":"cDTC TWTB","group":"HP-SP","jit":0,"dtc":-196.4},
      {"cond":"cDTC TWTB","group":"LP-SP","jit":0.025,"dtc":53.6},
      {"cond":"cDTC TWTB","group":"LP-SP","jit":0.12,"dtc":45.4},
      {"cond":"cDTC TWTB","group":"LP-SP","jit":0.235,"dtc":47},
      {"cond":"cDTC TWTB","group":"LP-SP","jit":0.215,"dtc":42.1},
      {"cond":"cDTC TWTB","group":"LP-SP","jit":0.29,"dtc":43.2},
      {"cond":"cDTC TWTB","group":"LP-SP","jit":0.34,"dtc":42.9},
      {"cond":"cDTC TWTB","group":"LP-SP","jit":0.395,"dtc":47},
      {"cond":"cDTC TWTB","group":"LP-SP","jit":0.04,"dtc":34.7},
      {"cond":"cDTC TWTB","group":"LP-SP","jit":0.12,"dtc":33.8},
      {"cond":"cDTC TWTB","group":"LP-SP","jit":0.165,"dtc":33.8},
      {"cond":"cDTC TWTB","group":"LP-SP","jit":0.085,"dtc":29.7},
      {"cond":"cDTC TWTB","group":"LP-SP","jit":0.16,"dtc":27.2},
      {"cond":"cDTC TWTB","group":"LP-SP","jit":0.245,"dtc":24.8},
      {"cond":"cDTC TWTB","group":"LP-SP","jit":0.295,"dtc":21.5},
      {"cond":"cDTC TWTB","group":"LP-SP","jit":0.345,"dtc":27.2},
      {"cond":"cDTC TWTB","group":"LP-SP","jit":0.385,"dtc":32.2},
      {"cond":"cDTC TWTB","group":"LP-SP","jit":0.4,"dtc":26.4},
      {"cond":"cDTC TWTB","group":"LP-SP","jit":0.405,"dtc":23.1},
      {"cond":"cDTC TWTB","group":"LP-SP","jit":0.405,"dtc":19.8},
      {"cond":"cDTC TWTB","group":"LP-SP","jit":0.1,"dtc":18.2},
      {"cond":"cDTC TWTB","group":"LP-SP","jit":0.215,"dtc":18.2},
      {"cond":"cDTC TWTB","group":"LP-SP","jit":0.045,"dtc":13.2},
      {"cond":"cDTC TWTB","group":"LP-SP","jit":0.105,"dtc":11.6},
      {"cond":"cDTC TWTB","group":"LP-SP","jit":0.155,"dtc":11.6},
      {"cond":"cDTC TWTB","group":"LP-SP","jit":0.195,"dtc":13.2},
      {"cond":"cDTC TWTB","group":"LP-SP","jit":0.275,"dtc":10.7},
      {"cond":"cDTC TWTB","group":"LP-SP","jit":0.31,"dtc":11.6},
      {"cond":"cDTC TWTB","group":"LP-SP","jit":0.085,"dtc":7.4},
      {"cond":"cDTC TWTB","group":"LP-SP","jit":0.165,"dtc":7.4},
      {"cond":"cDTC TWTB","group":"LP-SP","jit":0.215,"dtc":5.8},
      {"cond":"cDTC TWTB","group":"LP-SP","jit":0.4,"dtc":7.4},
      {"cond":"cDTC TWTB","group":"LP-SP","jit":0.02,"dtc":0.8},
      {"cond":"cDTC TWTB","group":"LP-SP","jit":0.145,"dtc":1.7},
      {"cond":"cDTC TWTB","group":"LP-SP","jit":0.18,"dtc":0},
      {"cond":"cDTC TWTB","group":"LP-SP","jit":0.235,"dtc":0},
      {"cond":"cDTC TWTB","group":"LP-SP","jit":0.295,"dtc":1.7},
      {"cond":"cDTC TWTB","group":"LP-SP","jit":0.33,"dtc":3.3},
      {"cond":"cDTC TWTB","group":"LP-SP","jit":0.345,"dtc":0.8},
      {"cond":"cDTC TWTB","group":"LP-SP","jit":0.365,"dtc":-0.8},
      {"cond":"cDTC TWTB","group":"LP-SP","jit":0.095,"dtc":-3.3},
      {"cond":"cDTC TWTB","group":"LP-SP","jit":0.155,"dtc":-2.5},
      {"cond":"cDTC TWTB","group":"LP-SP","jit":0.185,"dtc":-3.3},
      {"cond":"cDTC TWTB","group":"LP-SP","jit":0.365,"dtc":-4.9},
      {"cond":"cDTC TWTB","group":"LP-SP","jit":0.385,"dtc":-5.8},
      {"cond":"cDTC TWTB","group":"LP-SP","jit":0.065,"dtc":-8.2},
      {"cond":"cDTC TWTB","group":"LP-SP","jit":0.115,"dtc":-9.1},
      {"cond":"cDTC TWTB","group":"LP-SP","jit":0.155,"dtc":-11.5},
      {"cond":"cDTC TWTB","group":"LP-SP","jit":0.205,"dtc":-10.7},
      {"cond":"cDTC TWTB","group":"LP-SP","jit":0.24,"dtc":-8.2},
      {"cond":"cDTC TWTB","group":"LP-SP","jit":0.305,"dtc":-8.2},
      {"cond":"cDTC TWTB","group":"LP-SP","jit":0.345,"dtc":-9.9},
      {"cond":"cDTC TWTB","group":"LP-SP","jit":0.02,"dtc":-16.5},
      {"cond":"cDTC TWTB","group":"LP-SP","jit":0.075,"dtc":-13.2},
      {"cond":"cDTC TWTB","group":"LP-SP","jit":0.095,"dtc":-15.7},
      {"cond":"cDTC TWTB","group":"LP-SP","jit":0.135,"dtc":-14.8},
      {"cond":"cDTC TWTB","group":"LP-SP","jit":0.195,"dtc":-14.8},
      {"cond":"cDTC TWTB","group":"LP-SP","jit":0.255,"dtc":-15.7},
      {"cond":"cDTC TWTB","group":"LP-SP","jit":0.325,"dtc":-14.8},
      {"cond":"cDTC TWTB","group":"LP-SP","jit":0.165,"dtc":-19.8},
      {"cond":"cDTC TWTB","group":"LP-SP","jit":0.295,"dtc":-20.6},
      {"cond":"cDTC TWTB","group":"LP-SP","jit":0.365,"dtc":-19.8},
      {"cond":"cDTC TWTB","group":"LP-SP","jit":0.375,"dtc":-23.1},
      {"cond":"cDTC TWTB","group":"LP-SP","jit":0.41,"dtc":-23.9},
      {"cond":"cDTC TWTB","group":"LP-SP","jit":0.075,"dtc":-24.7},
      {"cond":"cDTC TWTB","group":"LP-SP","jit":0.02,"dtc":-28.9},
      {"cond":"cDTC TWTB","group":"LP-SP","jit":0.065,"dtc":-29.7},
      {"cond":"cDTC TWTB","group":"LP-SP","jit":0.115,"dtc":-29.7},
      {"cond":"cDTC TWTB","group":"LP-SP","jit":0.165,"dtc":-29.7},
      {"cond":"cDTC TWTB","group":"LP-SP","jit":0.23,"dtc":-28.9},
      {"cond":"cDTC TWTB","group":"LP-SP","jit":0.3,"dtc":-28.9},
      {"cond":"cDTC TWTB","group":"LP-SP","jit":0.375,"dtc":-32.2},
      {"cond":"cDTC TWTB","group":"LP-SP","jit":0.055,"dtc":-34.6},
      {"cond":"cDTC TWTB","group":"LP-SP","jit":0.095,"dtc":-33.8},
      {"cond":"cDTC TWTB","group":"LP-SP","jit":0.145,"dtc":-36.3},
      {"cond":"cDTC TWTB","group":"LP-SP","jit":0.195,"dtc":-37.1},
      {"cond":"cDTC TWTB","group":"LP-SP","jit":0.405,"dtc":-37.9},
      {"cond":"cDTC TWTB","group":"LP-SP","jit":0.065,"dtc":-41.2},
      {"cond":"cDTC TWTB","group":"LP-SP","jit":0.115,"dtc":-43.7},
      {"cond":"cDTC TWTB","group":"LP-SP","jit":0.155,"dtc":-43.7},
      {"cond":"cDTC TWTB","group":"LP-SP","jit":0.265,"dtc":-42.6},
      {"cond":"cDTC TWTB","group":"LP-SP","jit":0.2,"dtc":-49.5},
      {"cond":"cDTC TWTB","group":"LP-SP","jit":0.085,"dtc":-53.6},
      {"cond":"cDTC TWTB","group":"LP-SP","jit":0.325,"dtc":-53.6},
      {"cond":"cDTC TWTB","group":"LP-SP","jit":0.375,"dtc":-51.1},
      {"cond":"cDTC TWTB","group":"LP-SP","jit":0.405,"dtc":-54.4},
      {"cond":"cDTC TWTB","group":"LP-SP","jit":0.035,"dtc":-57.7},
      {"cond":"cDTC TWTB","group":"LP-SP","jit":0.115,"dtc":-58.6},
      {"cond":"cDTC TWTB","group":"LP-SP","jit":0.275,"dtc":-58.6},
      {"cond":"cDTC TWTB","group":"LP-SP","jit":0.325,"dtc":-63.5},
      {"cond":"cDTC TWTB","group":"LP-SP","jit":0.385,"dtc":-64.3},
      {"cond":"cDTC TWTB","group":"LP-SP","jit":0.015,"dtc":-66},
      {"cond":"cDTC TWTB","group":"LP-SP","jit":0.125,"dtc":-68.5},
      {"cond":"cDTC TWTB","group":"LP-SP","jit":0.165,"dtc":-71.8},
      {"cond":"cDTC TWTB","group":"LP-SP","jit":0.215,"dtc":-72.6},
      {"cond":"cDTC TWTB","group":"LP-SP","jit":0.245,"dtc":-71.8},
      {"cond":"cDTC TWTB","group":"LP-SP","jit":0.01,"dtc":-78.4},
      {"cond":"cDTC TWTB","group":"LP-SP","jit":0.075,"dtc":-85.8},
      {"cond":"cDTC TWTB","group":"LP-SP","jit":0.165,"dtc":-83.3},
      {"cond":"cDTC TWTB","group":"LP-SP","jit":0.33,"dtc":-80.8},
      {"cond":"cDTC TWTB","group":"LP-SP","jit":0.335,"dtc":-85},
      {"cond":"cDTC TWTB","group":"LP-SP","jit":0.375,"dtc":-89.9},
      {"cond":"cDTC TWTB","group":"LP-SP","jit":0.085,"dtc":-89.9},
      {"cond":"cDTC TWTB","group":"LP-SP","jit":0.235,"dtc":-90.7},
      {"cond":"cDTC TWTB","group":"LP-SP","jit":0.06,"dtc":-97.9},
      {"cond":"cDTC TWTB","group":"LP-SP","jit":0.11,"dtc":-94.6},
      {"cond":"cDTC TWTB","group":"LP-SP","jit":0.215,"dtc":-95.7},
      {"cond":"cDTC TWTB","group":"LP-SP","jit":0.24,"dtc":-99},
      {"cond":"cDTC TWTB","group":"LP-SP","jit":0.275,"dtc":-97},
      {"cond":"cDTC TWTB","group":"LP-SP","jit":0.27,"dtc":-106.1},
      {"cond":"cDTC TWTB","group":"LP-SP","jit":0.01,"dtc":-116.7},
      {"cond":"cDTC TWTB","group":"LP-SP","jit":0.265,"dtc":-120.6},
      {"cond":"cDTC TWTB","group":"LP-SP","jit":0.095,"dtc":-146.4},
      {"cond":"cDTC TWTB","group":"LP-SP","jit":0.375,"dtc":-159.6},
      {"cond":"cDTC TWTB","group":"LP-SP","jit":0.35,"dtc":-171.8},
      {"cond":"cDTC TWTB","group":"LP-SP","jit":0.12,"dtc":-190.6},
      {"cond":"cDTC TWTB","group":"LP-SP","jit":0.045,"dtc":-237.3},
      {"cond":"cDTC TWTB","group":"LP-SP","jit":0.38,"dtc":-91.6},
      {"cond":"cDTC TWTB","group":"LP-SP","jit":0.085,"dtc":-91.6}
    ]
  },
  "encoding": {
    "x": {
      "field": "cond",
      "type": "nominal",
      "sort": ["mDTC TWTA", "mDTC TWTB", "cDTC TWTA", "cDTC TWTB"],
      "title": "Condition",
      "scale": {"paddingInner": 0.2, "paddingOuter": 0.2},
      "axis": {"labelAngle": 0, "labelPadding": 3, "titlePadding": 4}
    },
    "y": {
      "type": "quantitative",
      "title": "DTC (%)",
      "scale": {"domain": [-350.5, 76.7], "nice": false, "zero": false},
      "axis": {"values": [-300, -200, -100, 0], "labelExpr": "'' + datum.value", "labelFontSize": 29, "labelPadding": 4, "titlePadding": 4}
    }
  },
  "layer": [
    {
      "data": {"name": "boxes"},
      "mark": {"type": "rule", "strokeWidth": 1.3},
      "encoding": {
        "xOffset": {"field": "group", "type": "nominal", "scale": {"paddingInner": 0, "paddingOuter": 0}},
        "y": {"field": "lo", "type": "quantitative"},
        "y2": {"field": "hi"},
        "stroke": {"field": "group", "type": "nominal", "scale": {"range": ["#F8766D", "#00BFC4"]}, "legend": null}
      }
    },
    {
      "data": {"name": "boxes"},
      "mark": {"type": "bar", "fill": "white", "strokeWidth": 1.3, "width": {"band": 0.9}},
      "encoding": {
        "xOffset": {"field": "group", "type": "nominal", "scale": {"paddingInner": 0, "paddingOuter": 0}},
        "y": {"field": "q1", "type": "quantitative"},
        "y2": {"field": "q3"},
        "stroke": {"field": "group", "type": "nominal", "scale": {"range": ["#F8766D", "#00BFC4"]}, "legend": null}
      }
    },
    {
      "data": {"name": "boxes"},
      "mark": {"type": "bar", "fill": "white", "strokeWidth": 1.6, "width": {"band": 0.9}},
      "encoding": {
        "xOffset": {"field": "group", "type": "nominal", "scale": {"paddingInner": 0, "paddingOuter": 0}},
        "y": {"field": "median", "type": "quantitative"},
        "y2": {"field": "median"},
        "stroke": {"field": "group", "type": "nominal", "scale": {"range": ["#F8766D", "#00BFC4"]}, "legend": null}
      }
    },
    {
      "data": {"name": "points"},
      "mark": {"type": "point", "filled": true, "opacity": 1},
      "encoding": {
        "xOffset": {"field": "jit", "type": "quantitative", "scale": {"domain": [-0.4, 0.4], "nice": false, "zero": false}},
        "y": {"field": "dtc", "type": "quantitative"},
        "color": {
          "field": "group",
          "type": "nominal",
          "title": "performance_group",
          "scale": {"domain": ["HP-SP", "LP-SP"], "range": ["#F8766D", "#00BFC4"]},
          "legend": {"orient": "none", "legendX": 443, "legendY": -50, "direction": "horizontal", "titleOrient": "left", "columnPadding": 16, "titlePadding": 28, "labelOffset": 14}
        },
        "shape": {
          "field": "group",
          "type": "nominal",
          "title": "performance_group",
          "scale": {"domain": ["HP-SP", "LP-SP"], "range": ["circle", "triangle-up"]}
        },
        "size": {
          "field": "group",
          "type": "nominal",
          "title": "performance_group",
          "scale": {"domain": ["HP-SP", "LP-SP"], "range": [120, 170]}
        }
      }
    }
  ],
  "resolve": {"scale": {"xOffset": "independent"}}
}
